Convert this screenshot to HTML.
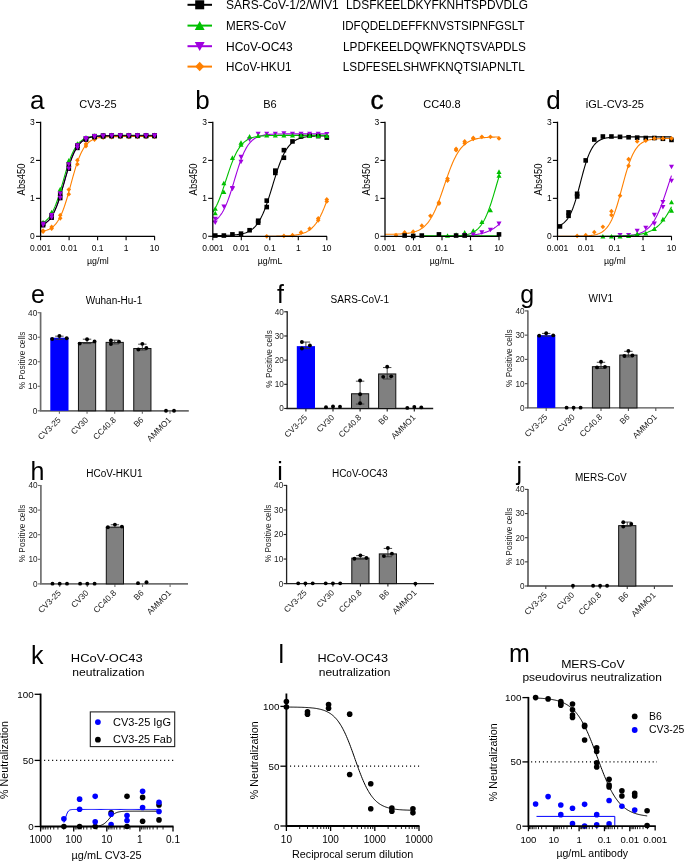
<!DOCTYPE html>
<html><head><meta charset="utf-8"><style>
html,body{margin:0;padding:0;background:#fff;}
svg{display:block;will-change:transform;}
text{font-family:"Liberation Sans", sans-serif;}
</style></head><body>
<svg width="685" height="862" viewBox="0 0 685 862">
<rect width="685" height="862" fill="#fff"/>
<line x1="187.50" y1="4.80" x2="212.00" y2="4.80" stroke="#000000" stroke-width="2"/>
<rect x="195.20" y="0.30" width="9.00" height="9.00" fill="#000000"/>
<text x="226.00" y="9.20" font-size="12" text-anchor="start" fill="#000">SARS-CoV-1/2/WIV1</text>
<text x="346.00" y="9.20" font-size="12" text-anchor="start" fill="#000" textLength="182.0" lengthAdjust="spacingAndGlyphs">LDSFKEELDKYFKNHTSPDVDLG</text>
<line x1="187.50" y1="25.60" x2="212.00" y2="25.60" stroke="#00C000" stroke-width="2"/>
<path d="M199.70 20.88L204.65 29.88L194.75 29.88Z" fill="#00C000"/>
<text x="226.00" y="30.00" font-size="12" text-anchor="start" fill="#000" textLength="60.0" lengthAdjust="spacingAndGlyphs">MERS-CoV</text>
<text x="342.00" y="30.00" font-size="12" text-anchor="start" fill="#000" textLength="182.5" lengthAdjust="spacingAndGlyphs">IDFQDELDEFFKNVSTSIPNFGSLT</text>
<line x1="187.50" y1="46.20" x2="212.00" y2="46.20" stroke="#A000E0" stroke-width="2"/>
<path d="M199.70 50.93L204.65 41.93L194.75 41.93Z" fill="#A000E0"/>
<text x="226.00" y="50.60" font-size="12" text-anchor="start" fill="#000">HCoV-OC43</text>
<text x="343.00" y="50.60" font-size="12" text-anchor="start" fill="#000" textLength="183.0" lengthAdjust="spacingAndGlyphs">LPDFKEELDQWFKNQTSVAPDLS</text>
<line x1="187.50" y1="66.60" x2="212.00" y2="66.60" stroke="#FF8000" stroke-width="2"/>
<path d="M199.70 61.87L204.20 66.60L199.70 71.32L195.20 66.60Z" fill="#FF8000"/>
<text x="226.00" y="71.00" font-size="12" text-anchor="start" fill="#000" textLength="65.6" lengthAdjust="spacingAndGlyphs">HCoV-HKU1</text>
<text x="342.80" y="71.00" font-size="12" text-anchor="start" fill="#000" textLength="182.0" lengthAdjust="spacingAndGlyphs">LSDFESELSHWFKNQTSIAPNLTL</text>
<text x="30.00" y="109.20" font-size="26" text-anchor="start" fill="#000">a</text>
<text x="97.90" y="108.10" font-size="11" text-anchor="middle" fill="#000">CV3-25</text>
<polyline points="40.60,224.04 41.55,223.62 42.50,223.14 43.45,222.59 44.40,221.97 45.35,221.25 46.30,220.44 47.25,219.52 48.20,218.48 49.15,217.31 50.10,215.99 51.05,214.52 52.00,212.88 52.95,211.07 53.90,209.08 54.85,206.90 55.80,204.54 56.75,201.99 57.70,199.27 58.65,196.38 59.60,193.35 60.55,190.20 61.50,186.96 62.45,183.65 63.40,180.32 64.35,177.00 65.30,173.72 66.25,170.51 67.20,167.41 68.15,164.45 69.10,161.63 70.05,158.99 71.00,156.52 71.95,154.25 72.90,152.15 73.85,150.24 74.80,148.51 75.75,146.95 76.70,145.56 77.65,144.31 78.60,143.20 79.55,142.21 80.50,141.34 81.45,140.58 82.40,139.90 83.35,139.31 84.30,138.79 85.25,138.34 86.20,137.95 87.15,137.61 88.10,137.31 89.05,137.05 90.00,136.82 90.95,136.62 91.90,136.45 92.85,136.31 93.80,136.18 94.75,136.07 95.70,135.97 96.65,135.89 97.60,135.81 98.55,135.75 99.50,135.70 100.45,135.65 101.40,135.61 102.35,135.58 103.30,135.55 104.25,135.52 105.20,135.50 106.15,135.48 107.10,135.46 108.05,135.45 109.00,135.43 109.95,135.42 110.90,135.41 111.85,135.41 112.80,135.40 113.75,135.39 114.70,135.39 115.65,135.38 116.60,135.38 117.55,135.37 118.50,135.37 119.45,135.37 120.40,135.37 121.35,135.37 122.30,135.36 123.25,135.36 124.20,135.36 125.15,135.36 126.10,135.36 127.05,135.36 128.00,135.36 128.95,135.36 129.90,135.36 130.85,135.36 131.80,135.36 132.75,135.36 133.70,135.35 134.65,135.35 135.60,135.35 136.55,135.35 137.50,135.35 138.45,135.35 139.40,135.35 140.35,135.35 141.30,135.35 142.25,135.35 143.20,135.35 144.15,135.35 145.10,135.35 146.05,135.35 147.00,135.35 147.95,135.35 148.90,135.35 149.85,135.35 150.80,135.35 151.75,135.35 152.70,135.35 153.65,135.35 154.60,135.35" fill="none" stroke="#00C000" stroke-width="1.1"/>
<polyline points="40.60,225.60 41.55,225.24 42.50,224.83 43.45,224.36 44.40,223.82 45.35,223.20 46.30,222.50 47.25,221.70 48.20,220.80 49.15,219.77 50.10,218.62 51.05,217.32 52.00,215.87 52.95,214.26 53.90,212.47 54.85,210.50 55.80,208.34 56.75,205.99 57.70,203.46 58.65,200.75 59.60,197.87 60.55,194.84 61.50,191.69 62.45,188.44 63.40,185.12 64.35,181.76 65.30,178.40 66.25,175.08 67.20,171.83 68.15,168.69 69.10,165.67 70.05,162.80 71.00,160.09 71.95,157.57 72.90,155.23 73.85,153.09 74.80,151.12 75.75,149.34 76.70,147.74 77.65,146.29 78.60,145.01 79.55,143.86 80.50,142.84 81.45,141.94 82.40,141.15 83.35,140.45 84.30,139.84 85.25,139.30 86.20,138.84 87.15,138.43 88.10,138.07 89.05,137.76 90.00,137.49 90.95,137.26 91.90,137.05 92.85,136.87 93.80,136.72 94.75,136.59 95.70,136.47 96.65,136.37 97.60,136.29 98.55,136.21 99.50,136.15 100.45,136.09 101.40,136.04 102.35,136.00 103.30,135.96 104.25,135.93 105.20,135.91 106.15,135.88 107.10,135.86 108.05,135.84 109.00,135.83 109.95,135.82 110.90,135.80 111.85,135.80 112.80,135.79 113.75,135.78 114.70,135.77 115.65,135.77 116.60,135.76 117.55,135.76 118.50,135.76 119.45,135.75 120.40,135.75 121.35,135.75 122.30,135.75 123.25,135.74 124.20,135.74 125.15,135.74 126.10,135.74 127.05,135.74 128.00,135.74 128.95,135.74 129.90,135.74 130.85,135.74 131.80,135.74 132.75,135.74 133.70,135.73 134.65,135.73 135.60,135.73 136.55,135.73 137.50,135.73 138.45,135.73 139.40,135.73 140.35,135.73 141.30,135.73 142.25,135.73 143.20,135.73 144.15,135.73 145.10,135.73 146.05,135.73 147.00,135.73 147.95,135.73 148.90,135.73 149.85,135.73 150.80,135.73 151.75,135.73 152.70,135.73 153.65,135.73 154.60,135.73" fill="none" stroke="#A000E0" stroke-width="1.1"/>
<polyline points="40.60,231.59 41.55,231.44 42.50,231.28 43.45,231.09 44.40,230.87 45.35,230.62 46.30,230.33 47.25,230.00 48.20,229.62 49.15,229.18 50.10,228.68 51.05,228.11 52.00,227.45 52.95,226.71 53.90,225.86 54.85,224.90 55.80,223.81 56.75,222.59 57.70,221.22 58.65,219.68 59.60,217.97 60.55,216.08 61.50,214.00 62.45,211.72 63.40,209.25 64.35,206.58 65.30,203.73 66.25,200.71 67.20,197.54 68.15,194.24 69.10,190.84 70.05,187.37 71.00,183.87 71.95,180.38 72.90,176.93 73.85,173.57 74.80,170.31 75.75,167.18 76.70,164.22 77.65,161.44 78.60,158.84 79.55,156.44 80.50,154.23 81.45,152.22 82.40,150.39 83.35,148.75 84.30,147.27 85.25,145.95 86.20,144.78 87.15,143.74 88.10,142.82 89.05,142.01 90.00,141.30 90.95,140.68 91.90,140.13 92.85,139.65 93.80,139.24 94.75,138.87 95.70,138.56 96.65,138.28 97.60,138.04 98.55,137.83 99.50,137.65 100.45,137.50 101.40,137.36 102.35,137.25 103.30,137.14 104.25,137.06 105.20,136.98 106.15,136.91 107.10,136.86 108.05,136.81 109.00,136.76 109.95,136.73 110.90,136.70 111.85,136.67 112.80,136.64 113.75,136.62 114.70,136.61 115.65,136.59 116.60,136.58 117.55,136.57 118.50,136.56 119.45,136.55 120.40,136.54 121.35,136.53 122.30,136.53 123.25,136.52 124.20,136.52 125.15,136.51 126.10,136.51 127.05,136.51 128.00,136.51 128.95,136.50 129.90,136.50 130.85,136.50 131.80,136.50 132.75,136.50 133.70,136.50 134.65,136.50 135.60,136.50 136.55,136.50 137.50,136.49 138.45,136.49 139.40,136.49 140.35,136.49 141.30,136.49 142.25,136.49 143.20,136.49 144.15,136.49 145.10,136.49 146.05,136.49 147.00,136.49 147.95,136.49 148.90,136.49 149.85,136.49 150.80,136.49 151.75,136.49 152.70,136.49 153.65,136.49 154.60,136.49" fill="none" stroke="#FF8000" stroke-width="1.1"/>
<polyline points="40.60,225.60 41.55,225.24 42.50,224.83 43.45,224.36 44.40,223.82 45.35,223.20 46.30,222.50 47.25,221.70 48.20,220.80 49.15,219.77 50.10,218.62 51.05,217.32 52.00,215.87 52.95,214.26 53.90,212.47 54.85,210.50 55.80,208.34 56.75,205.99 57.70,203.46 58.65,200.75 59.60,197.87 60.55,194.84 61.50,191.69 62.45,188.44 63.40,185.12 64.35,181.76 65.30,178.40 66.25,175.08 67.20,171.83 68.15,168.69 69.10,165.67 70.05,162.80 71.00,160.09 71.95,157.57 72.90,155.23 73.85,153.09 74.80,151.12 75.75,149.34 76.70,147.74 77.65,146.29 78.60,145.01 79.55,143.86 80.50,142.84 81.45,141.94 82.40,141.15 83.35,140.45 84.30,139.84 85.25,139.30 86.20,138.84 87.15,138.43 88.10,138.07 89.05,137.76 90.00,137.49 90.95,137.26 91.90,137.05 92.85,136.87 93.80,136.72 94.75,136.59 95.70,136.47 96.65,136.37 97.60,136.29 98.55,136.21 99.50,136.15 100.45,136.09 101.40,136.04 102.35,136.00 103.30,135.96 104.25,135.93 105.20,135.91 106.15,135.88 107.10,135.86 108.05,135.84 109.00,135.83 109.95,135.82 110.90,135.80 111.85,135.80 112.80,135.79 113.75,135.78 114.70,135.77 115.65,135.77 116.60,135.76 117.55,135.76 118.50,135.76 119.45,135.75 120.40,135.75 121.35,135.75 122.30,135.75 123.25,135.74 124.20,135.74 125.15,135.74 126.10,135.74 127.05,135.74 128.00,135.74 128.95,135.74 129.90,135.74 130.85,135.74 131.80,135.74 132.75,135.74 133.70,135.73 134.65,135.73 135.60,135.73 136.55,135.73 137.50,135.73 138.45,135.73 139.40,135.73 140.35,135.73 141.30,135.73 142.25,135.73 143.20,135.73 144.15,135.73 145.10,135.73 146.05,135.73 147.00,135.73 147.95,135.73 148.90,135.73 149.85,135.73 150.80,135.73 151.75,135.73 152.70,135.73 153.65,135.73 154.60,135.73" fill="none" stroke="#000000" stroke-width="1.1"/>
<path d="M43.07 228.26L45.37 230.68L43.07 233.09L40.77 230.68Z" fill="#FF8000"/>
<path d="M43.07 229.25L45.37 231.66L43.07 234.08L40.77 231.66Z" fill="#FF8000"/>
<path d="M51.65 224.53L53.95 226.94L51.65 229.36L49.35 226.94Z" fill="#FF8000"/>
<path d="M51.65 226.05L53.95 228.47L51.65 230.88L49.35 228.47Z" fill="#FF8000"/>
<path d="M60.23 212.85L62.53 215.26L60.23 217.68L57.93 215.26Z" fill="#FF8000"/>
<path d="M60.23 215.81L62.53 218.22L60.23 220.64L57.93 218.22Z" fill="#FF8000"/>
<path d="M68.81 187.17L71.11 189.58L68.81 192.00L66.51 189.58Z" fill="#FF8000"/>
<path d="M68.81 191.79L71.11 194.20L68.81 196.62L66.51 194.20Z" fill="#FF8000"/>
<path d="M77.39 157.84L79.69 160.25L77.39 162.67L75.09 160.25Z" fill="#FF8000"/>
<path d="M77.39 161.72L79.69 164.13L77.39 166.55L75.09 164.13Z" fill="#FF8000"/>
<path d="M85.97 141.61L88.27 144.02L85.97 146.44L83.67 144.02Z" fill="#FF8000"/>
<path d="M85.97 143.68L88.27 146.09L85.97 148.51L83.67 146.09Z" fill="#FF8000"/>
<path d="M94.54 135.95L96.84 138.37L94.54 140.78L92.24 138.37Z" fill="#FF8000"/>
<path d="M94.54 137.11L96.84 139.53L94.54 141.94L92.24 139.53Z" fill="#FF8000"/>
<path d="M103.12 134.31L105.42 136.73L103.12 139.14L100.82 136.73Z" fill="#FF8000"/>
<path d="M103.12 135.18L105.42 137.60L103.12 140.01L100.82 137.60Z" fill="#FF8000"/>
<path d="M111.70 133.86L114.00 136.28L111.70 138.69L109.40 136.28Z" fill="#FF8000"/>
<path d="M111.70 134.65L114.00 137.07L111.70 139.48L109.40 137.07Z" fill="#FF8000"/>
<path d="M120.28 133.74L122.58 136.16L120.28 138.57L117.98 136.16Z" fill="#FF8000"/>
<path d="M120.28 134.51L122.58 136.92L120.28 139.34L117.98 136.92Z" fill="#FF8000"/>
<path d="M128.86 133.71L131.16 136.12L128.86 138.54L126.56 136.12Z" fill="#FF8000"/>
<path d="M128.86 134.47L131.16 136.89L128.86 139.30L126.56 136.89Z" fill="#FF8000"/>
<path d="M137.44 133.70L139.74 136.12L137.44 138.53L135.14 136.12Z" fill="#FF8000"/>
<path d="M137.44 134.46L139.74 136.87L137.44 139.29L135.14 136.87Z" fill="#FF8000"/>
<path d="M146.02 133.70L148.32 136.11L146.02 138.53L143.72 136.11Z" fill="#FF8000"/>
<path d="M146.02 134.46L148.32 136.87L146.02 139.29L143.72 136.87Z" fill="#FF8000"/>
<path d="M154.60 133.70L156.90 136.11L154.60 138.53L152.30 136.11Z" fill="#FF8000"/>
<path d="M154.60 134.46L156.90 136.87L154.60 139.29L152.30 136.87Z" fill="#FF8000"/>
<path d="M43.07 219.71L45.60 224.31L40.54 224.31Z" fill="#00C000"/>
<path d="M43.07 221.11L45.60 225.71L40.54 225.71Z" fill="#00C000"/>
<path d="M51.65 209.77L54.18 214.37L49.12 214.37Z" fill="#00C000"/>
<path d="M51.65 212.42L54.18 217.02L49.12 217.02Z" fill="#00C000"/>
<path d="M60.23 186.70L62.76 191.30L57.70 191.30Z" fill="#00C000"/>
<path d="M60.23 191.04L62.76 195.64L57.70 195.64Z" fill="#00C000"/>
<path d="M68.81 158.11L71.34 162.71L66.28 162.71Z" fill="#00C000"/>
<path d="M68.81 162.03L71.34 166.63L66.28 166.63Z" fill="#00C000"/>
<path d="M77.39 141.15L79.92 145.75L74.86 145.75Z" fill="#00C000"/>
<path d="M77.39 143.30L79.92 147.90L74.86 147.90Z" fill="#00C000"/>
<path d="M85.97 135.03L88.50 139.63L83.44 139.63Z" fill="#00C000"/>
<path d="M85.97 136.23L88.50 140.83L83.44 140.83Z" fill="#00C000"/>
<path d="M94.54 133.23L97.07 137.83L92.01 137.83Z" fill="#00C000"/>
<path d="M94.54 134.12L97.07 138.72L92.01 138.72Z" fill="#00C000"/>
<path d="M103.12 132.74L105.65 137.34L100.59 137.34Z" fill="#00C000"/>
<path d="M103.12 133.53L105.65 138.13L100.59 138.13Z" fill="#00C000"/>
<path d="M111.70 132.61L114.23 137.21L109.17 137.21Z" fill="#00C000"/>
<path d="M111.70 133.38L114.23 137.98L109.17 137.98Z" fill="#00C000"/>
<path d="M120.28 132.57L122.81 137.17L117.75 137.17Z" fill="#00C000"/>
<path d="M120.28 133.33L122.81 137.93L117.75 137.93Z" fill="#00C000"/>
<path d="M128.86 132.56L131.39 137.16L126.33 137.16Z" fill="#00C000"/>
<path d="M128.86 133.32L131.39 137.92L126.33 137.92Z" fill="#00C000"/>
<path d="M137.44 132.56L139.97 137.16L134.91 137.16Z" fill="#00C000"/>
<path d="M137.44 133.32L139.97 137.92L134.91 137.92Z" fill="#00C000"/>
<path d="M146.02 132.56L148.55 137.16L143.49 137.16Z" fill="#00C000"/>
<path d="M146.02 133.32L148.55 137.92L143.49 137.92Z" fill="#00C000"/>
<path d="M154.60 132.56L157.13 137.16L152.07 137.16Z" fill="#00C000"/>
<path d="M154.60 133.32L157.13 137.92L152.07 137.92Z" fill="#00C000"/>
<rect x="40.77" y="221.60" width="4.60" height="4.60" fill="#000000"/>
<rect x="40.77" y="222.91" width="4.60" height="4.60" fill="#000000"/>
<rect x="49.35" y="212.90" width="4.60" height="4.60" fill="#000000"/>
<rect x="49.35" y="215.35" width="4.60" height="4.60" fill="#000000"/>
<rect x="57.93" y="191.48" width="4.60" height="4.60" fill="#000000"/>
<rect x="57.93" y="195.69" width="4.60" height="4.60" fill="#000000"/>
<rect x="66.51" y="162.21" width="4.60" height="4.60" fill="#000000"/>
<rect x="66.51" y="166.36" width="4.60" height="4.60" fill="#000000"/>
<rect x="75.09" y="143.19" width="4.60" height="4.60" fill="#000000"/>
<rect x="75.09" y="145.57" width="4.60" height="4.60" fill="#000000"/>
<rect x="83.67" y="136.00" width="4.60" height="4.60" fill="#000000"/>
<rect x="83.67" y="137.29" width="4.60" height="4.60" fill="#000000"/>
<rect x="92.24" y="133.86" width="4.60" height="4.60" fill="#000000"/>
<rect x="92.24" y="134.77" width="4.60" height="4.60" fill="#000000"/>
<rect x="100.82" y="133.27" width="4.60" height="4.60" fill="#000000"/>
<rect x="100.82" y="134.07" width="4.60" height="4.60" fill="#000000"/>
<rect x="109.40" y="133.11" width="4.60" height="4.60" fill="#000000"/>
<rect x="109.40" y="133.88" width="4.60" height="4.60" fill="#000000"/>
<rect x="117.98" y="133.07" width="4.60" height="4.60" fill="#000000"/>
<rect x="117.98" y="133.83" width="4.60" height="4.60" fill="#000000"/>
<rect x="126.56" y="133.06" width="4.60" height="4.60" fill="#000000"/>
<rect x="126.56" y="133.82" width="4.60" height="4.60" fill="#000000"/>
<rect x="135.14" y="133.05" width="4.60" height="4.60" fill="#000000"/>
<rect x="135.14" y="133.81" width="4.60" height="4.60" fill="#000000"/>
<rect x="143.72" y="133.05" width="4.60" height="4.60" fill="#000000"/>
<rect x="143.72" y="133.81" width="4.60" height="4.60" fill="#000000"/>
<rect x="152.30" y="133.05" width="4.60" height="4.60" fill="#000000"/>
<rect x="152.30" y="133.81" width="4.60" height="4.60" fill="#000000"/>
<path d="M43.07 226.31L45.60 221.71L40.54 221.71Z" fill="#A000E0"/>
<path d="M43.07 227.62L45.60 223.02L40.54 223.02Z" fill="#A000E0"/>
<path d="M51.65 217.62L54.18 213.02L49.12 213.02Z" fill="#A000E0"/>
<path d="M51.65 220.07L54.18 215.47L49.12 215.47Z" fill="#A000E0"/>
<path d="M60.23 196.20L62.76 191.60L57.70 191.60Z" fill="#A000E0"/>
<path d="M60.23 200.41L62.76 195.81L57.70 195.81Z" fill="#A000E0"/>
<path d="M68.81 166.92L71.34 162.32L66.28 162.32Z" fill="#A000E0"/>
<path d="M68.81 171.07L71.34 166.47L66.28 166.47Z" fill="#A000E0"/>
<path d="M77.39 147.91L79.92 143.31L74.86 143.31Z" fill="#A000E0"/>
<path d="M77.39 150.28L79.92 145.68L74.86 145.68Z" fill="#A000E0"/>
<path d="M85.97 140.72L88.50 136.12L83.44 136.12Z" fill="#A000E0"/>
<path d="M85.97 142.00L88.50 137.40L83.44 137.40Z" fill="#A000E0"/>
<path d="M94.54 138.58L97.07 133.98L92.01 133.98Z" fill="#A000E0"/>
<path d="M94.54 139.48L97.07 134.88L92.01 134.88Z" fill="#A000E0"/>
<path d="M103.12 137.99L105.65 133.39L100.59 133.39Z" fill="#A000E0"/>
<path d="M103.12 138.79L105.65 134.19L100.59 134.19Z" fill="#A000E0"/>
<path d="M111.70 137.83L114.23 133.23L109.17 133.23Z" fill="#A000E0"/>
<path d="M111.70 138.60L114.23 134.00L109.17 134.00Z" fill="#A000E0"/>
<path d="M120.28 137.78L122.81 133.18L117.75 133.18Z" fill="#A000E0"/>
<path d="M120.28 138.55L122.81 133.95L117.75 133.95Z" fill="#A000E0"/>
<path d="M128.86 137.77L131.39 133.17L126.33 133.17Z" fill="#A000E0"/>
<path d="M128.86 138.53L131.39 133.93L126.33 133.93Z" fill="#A000E0"/>
<path d="M137.44 137.77L139.97 133.17L134.91 133.17Z" fill="#A000E0"/>
<path d="M137.44 138.53L139.97 133.93L134.91 133.93Z" fill="#A000E0"/>
<path d="M146.02 137.77L148.55 133.17L143.49 133.17Z" fill="#A000E0"/>
<path d="M146.02 138.53L148.55 133.93L143.49 133.93Z" fill="#A000E0"/>
<path d="M154.60 137.77L157.13 133.17L152.07 133.17Z" fill="#A000E0"/>
<path d="M154.60 138.53L157.13 133.93L152.07 133.93Z" fill="#A000E0"/>
<line x1="40.60" y1="236.30" x2="154.80" y2="236.30" stroke="#000" stroke-width="1.3"/>
<line x1="40.60" y1="236.90" x2="40.60" y2="121.70" stroke="#000" stroke-width="1.3"/>
<line x1="36.00" y1="236.30" x2="40.60" y2="236.30" stroke="#000" stroke-width="1.1"/>
<text x="34.80" y="239.30" font-size="8.5" text-anchor="end" fill="#000">0</text>
<line x1="36.00" y1="198.35" x2="40.60" y2="198.35" stroke="#000" stroke-width="1.1"/>
<text x="34.80" y="201.35" font-size="8.5" text-anchor="end" fill="#000">1</text>
<line x1="36.00" y1="160.40" x2="40.60" y2="160.40" stroke="#000" stroke-width="1.1"/>
<text x="34.80" y="163.40" font-size="8.5" text-anchor="end" fill="#000">2</text>
<line x1="36.00" y1="122.45" x2="40.60" y2="122.45" stroke="#000" stroke-width="1.1"/>
<text x="34.80" y="125.45" font-size="8.5" text-anchor="end" fill="#000">3</text>
<line x1="40.60" y1="236.30" x2="40.60" y2="240.30" stroke="#000" stroke-width="1.1"/>
<text x="40.60" y="250.80" font-size="8.5" text-anchor="middle" fill="#000">0.001</text>
<line x1="69.10" y1="236.30" x2="69.10" y2="240.30" stroke="#000" stroke-width="1.1"/>
<text x="69.10" y="250.80" font-size="8.5" text-anchor="middle" fill="#000">0.01</text>
<line x1="97.60" y1="236.30" x2="97.60" y2="240.30" stroke="#000" stroke-width="1.1"/>
<text x="97.60" y="250.80" font-size="8.5" text-anchor="middle" fill="#000">0.1</text>
<line x1="126.10" y1="236.30" x2="126.10" y2="240.30" stroke="#000" stroke-width="1.1"/>
<text x="126.10" y="250.80" font-size="8.5" text-anchor="middle" fill="#000">1</text>
<line x1="154.60" y1="236.30" x2="154.60" y2="240.30" stroke="#000" stroke-width="1.1"/>
<text x="154.60" y="250.80" font-size="8.5" text-anchor="middle" fill="#000">10</text>
<text x="97.90" y="264.00" font-size="8.8" text-anchor="middle" fill="#000">µg/ml</text>
<text x="25.20" y="179.40" font-size="10.3" text-anchor="middle" fill="#000" transform="rotate(-90 25.20 179.40)" textLength="32.0" lengthAdjust="spacingAndGlyphs">Abs450</text>
<text x="195.20" y="109.20" font-size="26" text-anchor="start" fill="#000">b</text>
<text x="270.00" y="108.10" font-size="11" text-anchor="middle" fill="#000">B6</text>
<polyline points="212.80,235.50 213.75,235.50 214.70,235.49 215.65,235.49 216.60,235.48 217.55,235.47 218.50,235.46 219.45,235.45 220.40,235.44 221.35,235.43 222.30,235.41 223.25,235.40 224.20,235.38 225.15,235.35 226.10,235.33 227.05,235.30 228.00,235.27 228.95,235.23 229.90,235.19 230.85,235.15 231.80,235.09 232.75,235.03 233.70,234.97 234.65,234.89 235.60,234.80 236.55,234.70 237.50,234.59 238.45,234.47 239.40,234.32 240.35,234.16 241.30,233.98 242.25,233.77 243.20,233.54 244.15,233.28 245.10,232.98 246.05,232.65 247.00,232.28 247.95,231.85 248.90,231.38 249.85,230.85 250.80,230.25 251.75,229.59 252.70,228.84 253.65,228.01 254.60,227.09 255.55,226.06 256.50,224.92 257.45,223.67 258.40,222.29 259.35,220.77 260.30,219.12 261.25,217.32 262.20,215.37 263.15,213.26 264.10,211.01 265.05,208.61 266.00,206.06 266.95,203.38 267.90,200.58 268.85,197.67 269.80,194.67 270.75,191.60 271.70,188.48 272.65,185.35 273.60,182.21 274.55,179.10 275.50,176.04 276.45,173.06 277.40,170.17 278.35,167.39 279.30,164.73 280.25,162.21 281.20,159.84 282.15,157.61 283.10,155.54 284.05,153.61 285.00,151.84 285.95,150.21 286.90,148.72 287.85,147.36 288.80,146.13 289.75,145.02 290.70,144.01 291.65,143.10 292.60,142.29 293.55,141.56 294.50,140.90 295.45,140.32 296.40,139.80 297.35,139.34 298.30,138.92 299.25,138.56 300.20,138.23 301.15,137.94 302.10,137.69 303.05,137.46 304.00,137.26 304.95,137.08 305.90,136.92 306.85,136.78 307.80,136.66 308.75,136.55 309.70,136.46 310.65,136.37 311.60,136.30 312.55,136.23 313.50,136.17 314.45,136.12 315.40,136.07 316.35,136.03 317.30,136.00 318.25,135.97 319.20,135.94 320.15,135.91 321.10,135.89 322.05,135.87 323.00,135.86 323.95,135.84 324.90,135.83 325.85,135.82 326.80,135.81" fill="none" stroke="#000000" stroke-width="1.1"/>
<polyline points="212.80,221.95 213.75,221.43 214.70,220.83 215.65,220.15 216.60,219.39 217.55,218.53 218.50,217.57 219.45,216.49 220.40,215.28 221.35,213.94 222.30,212.45 223.25,210.81 224.20,209.01 225.15,207.04 226.10,204.90 227.05,202.60 228.00,200.13 228.95,197.51 229.90,194.74 230.85,191.84 231.80,188.84 232.75,185.76 233.70,182.61 234.65,179.45 235.60,176.28 236.55,173.15 237.50,170.08 238.45,167.09 239.40,164.22 240.35,161.48 241.30,158.89 242.25,156.45 243.20,154.18 244.15,152.08 245.10,150.14 246.05,148.37 247.00,146.76 247.95,145.30 248.90,143.98 249.85,142.80 250.80,141.74 251.75,140.80 252.70,139.96 253.65,139.22 254.60,138.56 255.55,137.98 256.50,137.46 257.45,137.01 258.40,136.61 259.35,136.26 260.30,135.96 261.25,135.69 262.20,135.45 263.15,135.25 264.10,135.07 265.05,134.91 266.00,134.77 266.95,134.65 267.90,134.55 268.85,134.46 269.80,134.38 270.75,134.31 271.70,134.25 272.65,134.19 273.60,134.15 274.55,134.11 275.50,134.07 276.45,134.04 277.40,134.02 278.35,133.99 279.30,133.97 280.25,133.95 281.20,133.94 282.15,133.93 283.10,133.91 284.05,133.90 285.00,133.89 285.95,133.89 286.90,133.88 287.85,133.87 288.80,133.87 289.75,133.86 290.70,133.86 291.65,133.86 292.60,133.85 293.55,133.85 294.50,133.85 295.45,133.85 296.40,133.85 297.35,133.84 298.30,133.84 299.25,133.84 300.20,133.84 301.15,133.84 302.10,133.84 303.05,133.84 304.00,133.84 304.95,133.84 305.90,133.84 306.85,133.84 307.80,133.84 308.75,133.84 309.70,133.84 310.65,133.84 311.60,133.84 312.55,133.84 313.50,133.84 314.45,133.84 315.40,133.84 316.35,133.84 317.30,133.84 318.25,133.84 319.20,133.84 320.15,133.84 321.10,133.84 322.05,133.84 323.00,133.84 323.95,133.84 324.90,133.84 325.85,133.84 326.80,133.84" fill="none" stroke="#A000E0" stroke-width="1.1"/>
<polyline points="212.80,212.32 213.75,210.84 214.70,209.22 215.65,207.46 216.60,205.55 217.55,203.50 218.50,201.30 219.45,198.97 220.40,196.50 221.35,193.91 222.30,191.21 223.25,188.43 224.20,185.58 225.15,182.68 226.10,179.76 227.05,176.84 228.00,173.96 228.95,171.12 229.90,168.36 230.85,165.69 231.80,163.13 232.75,160.69 233.70,158.39 234.65,156.23 235.60,154.21 236.55,152.34 237.50,150.62 238.45,149.04 239.40,147.59 240.35,146.28 241.30,145.09 242.25,144.01 243.20,143.04 244.15,142.17 245.10,141.40 246.05,140.70 247.00,140.08 247.95,139.53 248.90,139.04 249.85,138.60 250.80,138.22 251.75,137.88 252.70,137.58 253.65,137.31 254.60,137.08 255.55,136.87 256.50,136.69 257.45,136.53 258.40,136.38 259.35,136.26 260.30,136.15 261.25,136.05 262.20,135.97 263.15,135.89 264.10,135.83 265.05,135.77 266.00,135.72 266.95,135.67 267.90,135.63 268.85,135.60 269.80,135.57 270.75,135.54 271.70,135.52 272.65,135.50 273.60,135.48 274.55,135.47 275.50,135.45 276.45,135.44 277.40,135.43 278.35,135.42 279.30,135.41 280.25,135.40 281.20,135.40 282.15,135.39 283.10,135.39 284.05,135.38 285.00,135.38 285.95,135.38 286.90,135.37 287.85,135.37 288.80,135.37 289.75,135.37 290.70,135.37 291.65,135.36 292.60,135.36 293.55,135.36 294.50,135.36 295.45,135.36 296.40,135.36 297.35,135.36 298.30,135.36 299.25,135.36 300.20,135.36 301.15,135.36 302.10,135.36 303.05,135.36 304.00,135.35 304.95,135.35 305.90,135.35 306.85,135.35 307.80,135.35 308.75,135.35 309.70,135.35 310.65,135.35 311.60,135.35 312.55,135.35 313.50,135.35 314.45,135.35 315.40,135.35 316.35,135.35 317.30,135.35 318.25,135.35 319.20,135.35 320.15,135.35 321.10,135.35 322.05,135.35 323.00,135.35 323.95,135.35 324.90,135.35 325.85,135.35 326.80,135.35" fill="none" stroke="#00C000" stroke-width="1.1"/>
<polyline points="265.39,236.27 265.90,236.27 266.41,236.26 266.92,236.26 267.43,236.26 267.94,236.26 268.46,236.25 268.97,236.25 269.48,236.25 269.99,236.24 270.50,236.24 271.01,236.24 271.53,236.23 272.04,236.23 272.55,236.22 273.06,236.22 273.57,236.21 274.09,236.21 274.60,236.20 275.11,236.20 275.62,236.19 276.13,236.18 276.64,236.17 277.16,236.17 277.67,236.16 278.18,236.15 278.69,236.14 279.20,236.13 279.72,236.12 280.23,236.11 280.74,236.09 281.25,236.08 281.76,236.07 282.27,236.05 282.79,236.04 283.30,236.02 283.81,236.00 284.32,235.98 284.83,235.96 285.35,235.94 285.86,235.92 286.37,235.89 286.88,235.87 287.39,235.84 287.90,235.81 288.42,235.78 288.93,235.75 289.44,235.71 289.95,235.67 290.46,235.63 290.97,235.59 291.49,235.55 292.00,235.50 292.51,235.45 293.02,235.40 293.53,235.34 294.05,235.28 294.56,235.21 295.07,235.14 295.58,235.07 296.09,234.99 296.60,234.91 297.12,234.82 297.63,234.73 298.14,234.63 298.65,234.53 299.16,234.41 299.68,234.30 300.19,234.17 300.70,234.04 301.21,233.90 301.72,233.75 302.23,233.59 302.75,233.42 303.26,233.24 303.77,233.05 304.28,232.85 304.79,232.64 305.30,232.41 305.82,232.17 306.33,231.92 306.84,231.65 307.35,231.37 307.86,231.07 308.38,230.75 308.89,230.42 309.40,230.07 309.91,229.69 310.42,229.30 310.93,228.89 311.45,228.45 311.96,227.99 312.47,227.50 312.98,226.99 313.49,226.45 314.01,225.89 314.52,225.30 315.03,224.67 315.54,224.02 316.05,223.34 316.56,222.62 317.08,221.87 317.59,221.09 318.10,220.27 318.61,219.41 319.12,218.52 319.63,217.60 320.15,216.64 320.66,215.64 321.17,214.60 321.68,213.53 322.19,212.41 322.71,211.27 323.22,210.08 323.73,208.86 324.24,207.61 324.75,206.32 325.26,205.00 325.78,203.65 326.29,202.26 326.80,200.85" fill="none" stroke="#FF8000" stroke-width="1.1"/>
<rect x="212.97" y="233.24" width="4.60" height="4.60" fill="#000000"/>
<rect x="221.55" y="233.24" width="4.60" height="4.60" fill="#000000"/>
<rect x="230.13" y="232.10" width="4.60" height="4.60" fill="#000000"/>
<rect x="238.71" y="231.34" width="4.60" height="4.60" fill="#000000"/>
<rect x="247.29" y="227.93" width="4.60" height="4.60" fill="#000000"/>
<rect x="255.87" y="218.44" width="4.60" height="4.60" fill="#000000"/>
<rect x="255.87" y="220.34" width="4.60" height="4.60" fill="#000000"/>
<rect x="264.44" y="198.33" width="4.60" height="4.60" fill="#000000"/>
<rect x="264.44" y="204.78" width="4.60" height="4.60" fill="#000000"/>
<rect x="273.02" y="168.35" width="4.60" height="4.60" fill="#000000"/>
<rect x="273.02" y="170.62" width="4.60" height="4.60" fill="#000000"/>
<rect x="281.60" y="147.85" width="4.60" height="4.60" fill="#000000"/>
<rect x="281.60" y="155.44" width="4.60" height="4.60" fill="#000000"/>
<rect x="290.18" y="139.12" width="4.60" height="4.60" fill="#000000"/>
<rect x="298.76" y="134.19" width="4.60" height="4.60" fill="#000000"/>
<rect x="307.34" y="133.43" width="4.60" height="4.60" fill="#000000"/>
<rect x="315.92" y="133.81" width="4.60" height="4.60" fill="#000000"/>
<rect x="324.50" y="135.33" width="4.60" height="4.60" fill="#000000"/>
<path d="M215.27 221.26L217.80 216.66L212.74 216.66Z" fill="#A000E0"/>
<path d="M215.27 225.05L217.80 220.45L212.74 220.45Z" fill="#A000E0"/>
<path d="M223.85 209.11L226.38 204.51L221.32 204.51Z" fill="#A000E0"/>
<path d="M232.43 190.52L234.96 185.92L229.90 185.92Z" fill="#A000E0"/>
<path d="M232.43 191.28L234.96 186.68L229.90 186.68Z" fill="#A000E0"/>
<path d="M241.01 164.33L243.54 159.73L238.48 159.73Z" fill="#A000E0"/>
<path d="M241.01 159.40L243.54 154.80L238.48 154.80Z" fill="#A000E0"/>
<path d="M249.59 141.94L252.12 137.34L247.06 137.34Z" fill="#A000E0"/>
<path d="M258.17 136.25L260.70 131.65L255.64 131.65Z" fill="#A000E0"/>
<path d="M266.74 136.25L269.27 131.65L264.21 131.65Z" fill="#A000E0"/>
<path d="M275.32 136.25L277.85 131.65L272.79 131.65Z" fill="#A000E0"/>
<path d="M283.90 135.87L286.43 131.27L281.37 131.27Z" fill="#A000E0"/>
<path d="M292.48 136.25L295.01 131.65L289.95 131.65Z" fill="#A000E0"/>
<path d="M301.06 136.25L303.59 131.65L298.53 131.65Z" fill="#A000E0"/>
<path d="M309.64 136.25L312.17 131.65L307.11 131.65Z" fill="#A000E0"/>
<path d="M318.22 136.25L320.75 131.65L315.69 131.65Z" fill="#A000E0"/>
<path d="M326.80 136.63L329.33 132.03L324.27 132.03Z" fill="#A000E0"/>
<path d="M215.27 206.18L217.80 210.78L212.74 210.78Z" fill="#00C000"/>
<path d="M215.27 210.74L217.80 215.34L212.74 215.34Z" fill="#00C000"/>
<path d="M223.85 180.76L226.38 185.36L221.32 185.36Z" fill="#00C000"/>
<path d="M223.85 189.48L226.38 194.08L221.32 194.08Z" fill="#00C000"/>
<path d="M232.43 155.33L234.96 159.93L229.90 159.93Z" fill="#00C000"/>
<path d="M241.01 142.05L243.54 146.65L238.48 146.65Z" fill="#00C000"/>
<path d="M241.01 140.15L243.54 144.75L238.48 144.75Z" fill="#00C000"/>
<path d="M249.59 134.08L252.12 138.68L247.06 138.68Z" fill="#00C000"/>
<path d="M258.17 133.32L260.70 137.92L255.64 137.92Z" fill="#00C000"/>
<path d="M266.74 132.94L269.27 137.54L264.21 137.54Z" fill="#00C000"/>
<path d="M275.32 132.94L277.85 137.54L272.79 137.54Z" fill="#00C000"/>
<path d="M283.90 132.94L286.43 137.54L281.37 137.54Z" fill="#00C000"/>
<path d="M292.48 132.94L295.01 137.54L289.95 137.54Z" fill="#00C000"/>
<path d="M301.06 132.94L303.59 137.54L298.53 137.54Z" fill="#00C000"/>
<path d="M309.64 133.32L312.17 137.92L307.11 137.92Z" fill="#00C000"/>
<path d="M318.22 133.32L320.75 137.92L315.69 137.92Z" fill="#00C000"/>
<path d="M326.80 133.32L329.33 137.92L324.27 137.92Z" fill="#00C000"/>
<path d="M266.74 233.89L269.04 236.30L266.74 238.72L264.44 236.30Z" fill="#FF8000"/>
<path d="M283.90 233.51L286.20 235.92L283.90 238.34L281.60 235.92Z" fill="#FF8000"/>
<path d="M292.48 232.75L294.78 235.16L292.48 237.58L290.18 235.16Z" fill="#FF8000"/>
<path d="M301.06 230.09L303.36 232.51L301.06 234.92L298.76 232.51Z" fill="#FF8000"/>
<path d="M309.64 226.30L311.94 228.71L309.64 231.12L307.34 228.71Z" fill="#FF8000"/>
<path d="M318.22 217.95L320.52 220.36L318.22 222.78L315.92 220.36Z" fill="#FF8000"/>
<path d="M318.22 216.05L320.52 218.46L318.22 220.88L315.92 218.46Z" fill="#FF8000"/>
<path d="M326.80 197.07L329.10 199.49L326.80 201.90L324.50 199.49Z" fill="#FF8000"/>
<path d="M326.80 198.97L329.10 201.39L326.80 203.80L324.50 201.39Z" fill="#FF8000"/>
<line x1="212.80" y1="236.30" x2="327.00" y2="236.30" stroke="#000" stroke-width="1.3"/>
<line x1="212.80" y1="236.90" x2="212.80" y2="121.70" stroke="#000" stroke-width="1.3"/>
<line x1="208.20" y1="236.30" x2="212.80" y2="236.30" stroke="#000" stroke-width="1.1"/>
<text x="207.00" y="239.30" font-size="8.5" text-anchor="end" fill="#000">0</text>
<line x1="208.20" y1="198.35" x2="212.80" y2="198.35" stroke="#000" stroke-width="1.1"/>
<text x="207.00" y="201.35" font-size="8.5" text-anchor="end" fill="#000">1</text>
<line x1="208.20" y1="160.40" x2="212.80" y2="160.40" stroke="#000" stroke-width="1.1"/>
<text x="207.00" y="163.40" font-size="8.5" text-anchor="end" fill="#000">2</text>
<line x1="208.20" y1="122.45" x2="212.80" y2="122.45" stroke="#000" stroke-width="1.1"/>
<text x="207.00" y="125.45" font-size="8.5" text-anchor="end" fill="#000">3</text>
<line x1="212.80" y1="236.30" x2="212.80" y2="240.30" stroke="#000" stroke-width="1.1"/>
<text x="212.80" y="250.80" font-size="8.5" text-anchor="middle" fill="#000">0.001</text>
<line x1="241.30" y1="236.30" x2="241.30" y2="240.30" stroke="#000" stroke-width="1.1"/>
<text x="241.30" y="250.80" font-size="8.5" text-anchor="middle" fill="#000">0.01</text>
<line x1="269.80" y1="236.30" x2="269.80" y2="240.30" stroke="#000" stroke-width="1.1"/>
<text x="269.80" y="250.80" font-size="8.5" text-anchor="middle" fill="#000">0.1</text>
<line x1="298.30" y1="236.30" x2="298.30" y2="240.30" stroke="#000" stroke-width="1.1"/>
<text x="298.30" y="250.80" font-size="8.5" text-anchor="middle" fill="#000">1</text>
<line x1="326.80" y1="236.30" x2="326.80" y2="240.30" stroke="#000" stroke-width="1.1"/>
<text x="326.80" y="250.80" font-size="8.5" text-anchor="middle" fill="#000">10</text>
<text x="270.00" y="264.00" font-size="8.8" text-anchor="middle" fill="#000">µg/mL</text>
<text x="197.40" y="179.40" font-size="10.3" text-anchor="middle" fill="#000" transform="rotate(-90 197.40 179.40)" textLength="32.0" lengthAdjust="spacingAndGlyphs">Abs450</text>
<text x="370.50" y="109.20" font-size="26" text-anchor="start" fill="#000" stroke="#000" stroke-width="0.45">c</text>
<text x="442.00" y="108.10" font-size="11" text-anchor="middle" fill="#000">CC40.8</text>
<polyline points="420.78,236.30 421.43,236.30 422.08,236.30 422.73,236.30 423.38,236.30 424.03,236.30 424.69,236.29 425.34,236.29 425.99,236.29 426.64,236.29 427.29,236.29 427.95,236.29 428.60,236.29 429.25,236.29 429.90,236.29 430.55,236.29 431.21,236.29 431.86,236.29 432.51,236.28 433.16,236.28 433.81,236.28 434.46,236.28 435.12,236.28 435.77,236.28 436.42,236.27 437.07,236.27 437.72,236.27 438.38,236.26 439.03,236.26 439.68,236.26 440.33,236.25 440.98,236.25 441.64,236.24 442.29,236.24 442.94,236.23 443.59,236.23 444.24,236.22 444.89,236.21 445.55,236.20 446.20,236.20 446.85,236.19 447.50,236.18 448.15,236.16 448.81,236.15 449.46,236.14 450.11,236.12 450.76,236.11 451.41,236.09 452.07,236.07 452.72,236.05 453.37,236.02 454.02,236.00 454.67,235.97 455.32,235.94 455.98,235.90 456.63,235.87 457.28,235.83 457.93,235.78 458.58,235.73 459.24,235.68 459.89,235.62 460.54,235.56 461.19,235.49 461.84,235.41 462.50,235.33 463.15,235.24 463.80,235.15 464.45,235.04 465.10,234.92 465.75,234.79 466.41,234.66 467.06,234.50 467.71,234.34 468.36,234.16 469.01,233.96 469.67,233.75 470.32,233.52 470.97,233.27 471.62,232.99 472.27,232.69 472.93,232.37 473.58,232.02 474.23,231.63 474.88,231.22 475.53,230.77 476.18,230.28 476.84,229.75 477.49,229.18 478.14,228.57 478.79,227.91 479.44,227.19 480.10,226.42 480.75,225.60 481.40,224.71 482.05,223.76 482.70,222.74 483.36,221.66 484.01,220.50 484.66,219.27 485.31,217.97 485.96,216.59 486.61,215.13 487.27,213.59 487.92,211.98 488.57,210.29 489.22,208.53 489.87,206.69 490.53,204.79 491.18,202.82 491.83,200.79 492.48,198.71 493.13,196.58 493.79,194.41 494.44,192.20 495.09,189.98 495.74,187.73 496.39,185.48 497.04,183.23 497.70,181.00 498.35,178.78 499.00,176.59" fill="none" stroke="#00C000" stroke-width="1.1"/>
<polyline points="461.92,235.79 462.23,235.78 462.54,235.76 462.85,235.75 463.16,235.73 463.47,235.72 463.77,235.70 464.08,235.69 464.39,235.67 464.70,235.65 465.01,235.63 465.32,235.62 465.63,235.60 465.94,235.58 466.25,235.56 466.56,235.54 466.86,235.52 467.17,235.49 467.48,235.47 467.79,235.45 468.10,235.43 468.41,235.40 468.72,235.38 469.03,235.35 469.34,235.33 469.65,235.30 469.95,235.27 470.26,235.24 470.57,235.21 470.88,235.18 471.19,235.15 471.50,235.12 471.81,235.09 472.12,235.06 472.43,235.02 472.74,234.99 473.04,234.95 473.35,234.91 473.66,234.87 473.97,234.84 474.28,234.80 474.59,234.75 474.90,234.71 475.21,234.67 475.52,234.62 475.83,234.58 476.13,234.53 476.44,234.48 476.75,234.43 477.06,234.38 477.37,234.33 477.68,234.28 477.99,234.22 478.30,234.16 478.61,234.11 478.92,234.05 479.22,233.98 479.53,233.92 479.84,233.86 480.15,233.79 480.46,233.72 480.77,233.65 481.08,233.58 481.39,233.51 481.70,233.43 482.01,233.35 482.31,233.28 482.62,233.19 482.93,233.11 483.24,233.02 483.55,232.94 483.86,232.85 484.17,232.75 484.48,232.66 484.79,232.56 485.10,232.46 485.40,232.36 485.71,232.25 486.02,232.14 486.33,232.03 486.64,231.92 486.95,231.80 487.26,231.68 487.57,231.56 487.88,231.44 488.19,231.31 488.49,231.18 488.80,231.04 489.11,230.90 489.42,230.76 489.73,230.62 490.04,230.47 490.35,230.31 490.66,230.16 490.97,230.00 491.28,229.83 491.58,229.67 491.89,229.49 492.20,229.32 492.51,229.14 492.82,228.95 493.13,228.76 493.44,228.57 493.75,228.37 494.06,228.17 494.37,227.96 494.67,227.75 494.98,227.53 495.29,227.31 495.60,227.09 495.91,226.85 496.22,226.62 496.53,226.37 496.84,226.13 497.15,225.87 497.46,225.61 497.76,225.35 498.07,225.08 498.38,224.80 498.69,224.52 499.00,224.23" fill="none" stroke="#A000E0" stroke-width="1.1"/>
<polyline points="385.00,234.33 385.95,234.32 386.90,234.31 387.85,234.30 388.80,234.29 389.75,234.27 390.70,234.25 391.65,234.24 392.60,234.22 393.55,234.19 394.50,234.17 395.45,234.14 396.40,234.11 397.35,234.07 398.30,234.03 399.25,233.99 400.20,233.94 401.15,233.88 402.10,233.82 403.05,233.75 404.00,233.67 404.95,233.58 405.90,233.48 406.85,233.37 407.80,233.24 408.75,233.10 409.70,232.94 410.65,232.77 411.60,232.57 412.55,232.36 413.50,232.11 414.45,231.84 415.40,231.54 416.35,231.20 417.30,230.82 418.25,230.40 419.20,229.94 420.15,229.42 421.10,228.84 422.05,228.21 423.00,227.51 423.95,226.73 424.90,225.88 425.85,224.94 426.80,223.91 427.75,222.78 428.70,221.55 429.65,220.21 430.60,218.76 431.55,217.18 432.50,215.49 433.45,213.67 434.40,211.73 435.35,209.67 436.30,207.48 437.25,205.18 438.20,202.77 439.15,200.26 440.10,197.67 441.05,194.99 442.00,192.26 442.95,189.49 443.90,186.69 444.85,183.88 445.80,181.09 446.75,178.32 447.70,175.61 448.65,172.95 449.60,170.38 450.55,167.89 451.50,165.51 452.45,163.24 453.40,161.08 454.35,159.05 455.30,157.14 456.25,155.35 457.20,153.69 458.15,152.14 459.10,150.72 460.05,149.41 461.00,148.20 461.95,147.10 462.90,146.09 463.85,145.17 464.80,144.34 465.75,143.58 466.70,142.90 467.65,142.28 468.60,141.72 469.55,141.22 470.50,140.76 471.45,140.36 472.40,139.99 473.35,139.66 474.30,139.36 475.25,139.10 476.20,138.86 477.15,138.65 478.10,138.46 479.05,138.29 480.00,138.14 480.95,138.00 481.90,137.88 482.85,137.77 483.80,137.67 484.75,137.59 485.70,137.51 486.65,137.44 487.60,137.38 488.55,137.32 489.50,137.27 490.45,137.23 491.40,137.19 492.35,137.16 493.30,137.13 494.25,137.10 495.20,137.07 496.15,137.05 497.10,137.03 498.05,137.01 499.00,137.00" fill="none" stroke="#FF8000" stroke-width="1.1"/>
<line x1="420.78" y1="235.70" x2="499.00" y2="235.70" stroke="#00C000" stroke-width="1.1"/>
<path d="M396.05 232.75L398.35 235.16L396.05 237.58L393.75 235.16Z" fill="#FF8000"/>
<path d="M404.63 230.09L406.93 232.51L404.63 234.92L402.33 232.51Z" fill="#FF8000"/>
<path d="M413.21 229.33L415.51 231.75L413.21 234.16L410.91 231.75Z" fill="#FF8000"/>
<path d="M421.79 223.26L424.09 225.67L421.79 228.09L419.49 225.67Z" fill="#FF8000"/>
<path d="M430.37 213.39L432.67 215.81L430.37 218.22L428.07 215.81Z" fill="#FF8000"/>
<path d="M438.94 200.11L441.24 202.52L438.94 204.94L436.64 202.52Z" fill="#FF8000"/>
<path d="M438.94 201.25L441.24 203.66L438.94 206.08L436.64 203.66Z" fill="#FF8000"/>
<path d="M447.52 178.10L449.82 180.51L447.52 182.93L445.22 180.51Z" fill="#FF8000"/>
<path d="M447.52 176.20L449.82 178.62L447.52 181.03L445.22 178.62Z" fill="#FF8000"/>
<path d="M456.10 146.60L458.40 149.02L456.10 151.43L453.80 149.02Z" fill="#FF8000"/>
<path d="M456.10 147.74L458.40 150.15L456.10 152.57L453.80 150.15Z" fill="#FF8000"/>
<path d="M464.68 139.01L466.98 141.43L464.68 143.84L462.38 141.43Z" fill="#FF8000"/>
<path d="M464.68 140.91L466.98 143.32L464.68 145.74L462.38 143.32Z" fill="#FF8000"/>
<path d="M473.26 135.59L475.56 138.01L473.26 140.42L470.96 138.01Z" fill="#FF8000"/>
<path d="M473.26 136.35L475.56 138.77L473.26 141.18L470.96 138.77Z" fill="#FF8000"/>
<path d="M481.84 134.46L484.14 136.87L481.84 139.29L479.54 136.87Z" fill="#FF8000"/>
<path d="M490.42 134.46L492.72 136.87L490.42 139.29L488.12 136.87Z" fill="#FF8000"/>
<path d="M499.00 135.97L501.30 138.39L499.00 140.80L496.70 138.39Z" fill="#FF8000"/>
<path d="M447.52 233.13L450.05 237.73L444.99 237.73Z" fill="#00C000"/>
<path d="M456.10 232.37L458.63 236.97L453.57 236.97Z" fill="#00C000"/>
<path d="M464.68 230.09L467.21 234.69L462.15 234.69Z" fill="#00C000"/>
<path d="M473.26 228.19L475.79 232.79L470.73 232.79Z" fill="#00C000"/>
<path d="M481.84 219.46L484.37 224.06L479.31 224.06Z" fill="#00C000"/>
<path d="M490.42 207.70L492.95 212.30L487.89 212.30Z" fill="#00C000"/>
<path d="M499.00 169.37L501.53 173.97L496.47 173.97Z" fill="#00C000"/>
<path d="M499.00 173.17L501.53 177.77L496.47 177.77Z" fill="#00C000"/>
<path d="M464.68 237.58L467.21 232.98L462.15 232.98Z" fill="#A000E0"/>
<path d="M473.26 237.20L475.79 232.60L470.73 232.60Z" fill="#A000E0"/>
<path d="M481.84 234.92L484.37 230.32L479.31 230.32Z" fill="#A000E0"/>
<path d="M490.42 232.26L492.95 227.66L487.89 227.66Z" fill="#A000E0"/>
<path d="M499.00 226.19L501.53 221.59L496.47 221.59Z" fill="#A000E0"/>
<rect x="402.33" y="233.24" width="4.60" height="4.60" fill="#000000"/>
<rect x="410.91" y="233.62" width="4.60" height="4.60" fill="#000000"/>
<rect x="419.49" y="233.24" width="4.60" height="4.60" fill="#000000"/>
<rect x="436.64" y="232.10" width="4.60" height="4.60" fill="#000000"/>
<rect x="453.80" y="233.24" width="4.60" height="4.60" fill="#000000"/>
<rect x="462.38" y="233.24" width="4.60" height="4.60" fill="#000000"/>
<rect x="496.70" y="232.10" width="4.60" height="4.60" fill="#000000"/>
<line x1="385.00" y1="236.30" x2="499.20" y2="236.30" stroke="#000" stroke-width="1.3"/>
<line x1="385.00" y1="236.90" x2="385.00" y2="121.70" stroke="#000" stroke-width="1.3"/>
<line x1="380.40" y1="236.30" x2="385.00" y2="236.30" stroke="#000" stroke-width="1.1"/>
<text x="379.20" y="239.30" font-size="8.5" text-anchor="end" fill="#000">0</text>
<line x1="380.40" y1="198.35" x2="385.00" y2="198.35" stroke="#000" stroke-width="1.1"/>
<text x="379.20" y="201.35" font-size="8.5" text-anchor="end" fill="#000">1</text>
<line x1="380.40" y1="160.40" x2="385.00" y2="160.40" stroke="#000" stroke-width="1.1"/>
<text x="379.20" y="163.40" font-size="8.5" text-anchor="end" fill="#000">2</text>
<line x1="380.40" y1="122.45" x2="385.00" y2="122.45" stroke="#000" stroke-width="1.1"/>
<text x="379.20" y="125.45" font-size="8.5" text-anchor="end" fill="#000">3</text>
<line x1="385.00" y1="236.30" x2="385.00" y2="240.30" stroke="#000" stroke-width="1.1"/>
<text x="385.00" y="250.80" font-size="8.5" text-anchor="middle" fill="#000">0.001</text>
<line x1="413.50" y1="236.30" x2="413.50" y2="240.30" stroke="#000" stroke-width="1.1"/>
<text x="413.50" y="250.80" font-size="8.5" text-anchor="middle" fill="#000">0.01</text>
<line x1="442.00" y1="236.30" x2="442.00" y2="240.30" stroke="#000" stroke-width="1.1"/>
<text x="442.00" y="250.80" font-size="8.5" text-anchor="middle" fill="#000">0.1</text>
<line x1="470.50" y1="236.30" x2="470.50" y2="240.30" stroke="#000" stroke-width="1.1"/>
<text x="470.50" y="250.80" font-size="8.5" text-anchor="middle" fill="#000">1</text>
<line x1="499.00" y1="236.30" x2="499.00" y2="240.30" stroke="#000" stroke-width="1.1"/>
<text x="499.00" y="250.80" font-size="8.5" text-anchor="middle" fill="#000">10</text>
<text x="442.00" y="264.00" font-size="8.8" text-anchor="middle" fill="#000">µg/mL</text>
<text x="369.60" y="179.40" font-size="10.3" text-anchor="middle" fill="#000" transform="rotate(-90 369.60 179.40)" textLength="32.0" lengthAdjust="spacingAndGlyphs">Abs450</text>
<text x="546.20" y="109.20" font-size="26" text-anchor="start" fill="#000">d</text>
<text x="614.90" y="108.10" font-size="11" text-anchor="middle" fill="#000">iGL-CV3-25</text>
<polyline points="616.76,236.12 617.21,236.11 617.67,236.10 618.13,236.09 618.58,236.07 619.04,236.06 619.49,236.05 619.95,236.03 620.41,236.02 620.86,236.00 621.32,235.98 621.77,235.96 622.23,235.94 622.69,235.92 623.14,235.90 623.60,235.88 624.06,235.85 624.51,235.83 624.97,235.80 625.42,235.77 625.88,235.74 626.34,235.71 626.79,235.67 627.25,235.64 627.71,235.60 628.16,235.56 628.62,235.52 629.07,235.47 629.53,235.43 629.99,235.38 630.44,235.32 630.90,235.27 631.35,235.21 631.81,235.14 632.27,235.08 632.72,235.01 633.18,234.93 633.64,234.86 634.09,234.77 634.55,234.69 635.00,234.59 635.46,234.50 635.92,234.39 636.37,234.29 636.83,234.17 637.29,234.05 637.74,233.92 638.20,233.79 638.65,233.65 639.11,233.50 639.57,233.34 640.02,233.17 640.48,233.00 640.93,232.81 641.39,232.62 641.85,232.41 642.30,232.20 642.76,231.97 643.22,231.73 643.67,231.48 644.13,231.21 644.58,230.94 645.04,230.64 645.50,230.33 645.95,230.01 646.41,229.67 646.87,229.31 647.32,228.94 647.78,228.54 648.23,228.13 648.69,227.70 649.15,227.24 649.60,226.77 650.06,226.27 650.52,225.75 650.97,225.21 651.43,224.64 651.88,224.05 652.34,223.43 652.80,222.79 653.25,222.12 653.71,221.42 654.16,220.69 654.62,219.94 655.08,219.15 655.53,218.34 655.99,217.50 656.45,216.62 656.90,215.72 657.36,214.79 657.81,213.82 658.27,212.83 658.73,211.80 659.18,210.75 659.64,209.67 660.10,208.56 660.55,207.42 661.01,206.25 661.46,205.06 661.92,203.85 662.38,202.61 662.83,201.35 663.29,200.06 663.74,198.76 664.20,197.44 664.66,196.10 665.11,194.75 665.57,193.39 666.03,192.02 666.48,190.64 666.94,189.25 667.39,187.86 667.85,186.47 668.31,185.08 668.76,183.70 669.22,182.31 669.68,180.94 670.13,179.57 670.59,178.22 671.04,176.88 671.50,175.56" fill="none" stroke="#A000E0" stroke-width="1.1"/>
<polyline points="599.60,236.26 600.20,236.26 600.80,236.25 601.40,236.25 601.99,236.25 602.59,236.24 603.19,236.24 603.79,236.24 604.39,236.23 604.99,236.23 605.59,236.23 606.19,236.22 606.79,236.22 607.39,236.21 607.99,236.21 608.59,236.20 609.18,236.19 609.78,236.19 610.38,236.18 610.98,236.17 611.58,236.17 612.18,236.16 612.78,236.15 613.38,236.14 613.98,236.13 614.58,236.12 615.18,236.11 615.78,236.10 616.38,236.09 616.97,236.08 617.57,236.06 618.17,236.05 618.77,236.04 619.37,236.02 619.97,236.00 620.57,235.99 621.17,235.97 621.77,235.95 622.37,235.93 622.97,235.90 623.57,235.88 624.16,235.86 624.76,235.83 625.36,235.80 625.96,235.77 626.56,235.74 627.16,235.71 627.76,235.67 628.36,235.64 628.96,235.60 629.56,235.56 630.16,235.51 630.76,235.47 631.35,235.42 631.95,235.37 632.55,235.31 633.15,235.25 633.75,235.19 634.35,235.13 634.95,235.06 635.55,234.99 636.15,234.91 636.75,234.83 637.35,234.74 637.95,234.65 638.54,234.55 639.14,234.45 639.74,234.35 640.34,234.23 640.94,234.11 641.54,233.99 642.14,233.85 642.74,233.71 643.34,233.56 643.94,233.40 644.54,233.24 645.14,233.06 645.74,232.88 646.33,232.68 646.93,232.47 647.53,232.26 648.13,232.03 648.73,231.78 649.33,231.53 649.93,231.26 650.53,230.98 651.13,230.68 651.73,230.37 652.33,230.04 652.93,229.69 653.52,229.33 654.12,228.95 654.72,228.54 655.32,228.12 655.92,227.68 656.52,227.22 657.12,226.73 657.72,226.22 658.32,225.69 658.92,225.13 659.52,224.54 660.12,223.93 660.71,223.30 661.31,222.63 661.91,221.94 662.51,221.22 663.11,220.47 663.71,219.69 664.31,218.88 664.91,218.04 665.51,217.16 666.11,216.26 666.71,215.32 667.31,214.35 667.90,213.36 668.50,212.33 669.10,211.26 669.70,210.17 670.30,209.05 670.90,207.90 671.50,206.72" fill="none" stroke="#00C000" stroke-width="1.1"/>
<polyline points="557.50,236.30 558.45,236.29 559.40,236.29 560.35,236.29 561.30,236.29 562.25,236.29 563.20,236.29 564.15,236.29 565.10,236.28 566.05,236.28 567.00,236.28 567.95,236.28 568.90,236.27 569.85,236.27 570.80,236.26 571.75,236.26 572.70,236.25 573.65,236.24 574.60,236.23 575.55,236.22 576.50,236.21 577.45,236.20 578.40,236.18 579.35,236.16 580.30,236.14 581.25,236.12 582.20,236.09 583.15,236.05 584.10,236.01 585.05,235.97 586.00,235.92 586.95,235.86 587.90,235.79 588.85,235.71 589.80,235.62 590.75,235.51 591.70,235.39 592.65,235.25 593.60,235.09 594.55,234.90 595.50,234.68 596.45,234.43 597.40,234.14 598.35,233.81 599.30,233.44 600.25,233.00 601.20,232.50 602.15,231.93 603.10,231.28 604.05,230.54 605.00,229.70 605.95,228.74 606.90,227.66 607.85,226.44 608.80,225.07 609.75,223.54 610.70,221.83 611.65,219.94 612.60,217.85 613.55,215.57 614.50,213.09 615.45,210.41 616.40,207.54 617.35,204.49 618.30,201.28 619.25,197.94 620.20,194.49 621.15,190.96 622.10,187.40 623.05,183.84 624.00,180.31 624.95,176.85 625.90,173.51 626.85,170.29 627.80,167.24 628.75,164.36 629.70,161.68 630.65,159.19 631.60,156.90 632.55,154.81 633.50,152.91 634.45,151.20 635.40,149.66 636.35,148.29 637.30,147.06 638.25,145.98 639.20,145.02 640.15,144.17 641.10,143.43 642.05,142.77 643.00,142.20 643.95,141.70 644.90,141.27 645.85,140.88 646.80,140.55 647.75,140.27 648.70,140.02 649.65,139.80 650.60,139.61 651.55,139.45 652.50,139.30 653.45,139.18 654.40,139.07 655.35,138.98 656.30,138.90 657.25,138.83 658.20,138.77 659.15,138.72 660.10,138.68 661.05,138.64 662.00,138.60 662.95,138.57 663.90,138.55 664.85,138.53 665.80,138.51 666.75,138.49 667.70,138.48 668.65,138.47 669.60,138.46 670.55,138.45 671.50,138.44" fill="none" stroke="#FF8000" stroke-width="1.1"/>
<polyline points="557.50,226.14 558.45,225.83 559.40,225.47 560.35,225.05 561.30,224.56 562.25,224.00 563.20,223.34 564.15,222.58 565.10,221.71 566.05,220.70 567.00,219.55 567.95,218.24 568.90,216.75 569.85,215.06 570.80,213.17 571.75,211.07 572.70,208.74 573.65,206.18 574.60,203.40 575.55,200.41 576.50,197.21 577.45,193.85 578.40,190.35 579.35,186.75 580.30,183.09 581.25,179.43 582.20,175.80 583.15,172.25 584.10,168.84 585.05,165.58 586.00,162.51 586.95,159.64 587.90,157.00 588.85,154.59 589.80,152.40 590.75,150.43 591.70,148.68 592.65,147.12 593.60,145.74 594.55,144.53 595.50,143.47 596.45,142.55 597.40,141.75 598.35,141.06 599.30,140.46 600.25,139.94 601.20,139.50 602.15,139.12 603.10,138.79 604.05,138.51 605.00,138.27 605.95,138.06 606.90,137.89 607.85,137.74 608.80,137.61 609.75,137.50 610.70,137.41 611.65,137.33 612.60,137.26 613.55,137.20 614.50,137.15 615.45,137.11 616.40,137.08 617.35,137.05 618.30,137.02 619.25,137.00 620.20,136.98 621.15,136.96 622.10,136.95 623.05,136.94 624.00,136.93 624.95,136.92 625.90,136.91 626.85,136.91 627.80,136.90 628.75,136.90 629.70,136.89 630.65,136.89 631.60,136.89 632.55,136.88 633.50,136.88 634.45,136.88 635.40,136.88 636.35,136.88 637.30,136.88 638.25,136.88 639.20,136.88 640.15,136.87 641.10,136.87 642.05,136.87 643.00,136.87 643.95,136.87 644.90,136.87 645.85,136.87 646.80,136.87 647.75,136.87 648.70,136.87 649.65,136.87 650.60,136.87 651.55,136.87 652.50,136.87 653.45,136.87 654.40,136.87 655.35,136.87 656.30,136.87 657.25,136.87 658.20,136.87 659.15,136.87 660.10,136.87 661.05,136.87 662.00,136.87 662.95,136.87 663.90,136.87 664.85,136.87 665.80,136.87 666.75,136.87 667.70,136.87 668.65,136.87 669.60,136.87 670.55,136.87 671.50,136.87" fill="none" stroke="#000000" stroke-width="1.1"/>
<rect x="557.67" y="224.13" width="4.60" height="4.60" fill="#000000"/>
<rect x="566.25" y="210.09" width="4.60" height="4.60" fill="#000000"/>
<rect x="566.25" y="213.51" width="4.60" height="4.60" fill="#000000"/>
<rect x="574.83" y="191.50" width="4.60" height="4.60" fill="#000000"/>
<rect x="574.83" y="194.15" width="4.60" height="4.60" fill="#000000"/>
<rect x="583.41" y="158.10" width="4.60" height="4.60" fill="#000000"/>
<rect x="591.99" y="137.23" width="4.60" height="4.60" fill="#000000"/>
<rect x="600.57" y="134.19" width="4.60" height="4.60" fill="#000000"/>
<rect x="609.14" y="134.19" width="4.60" height="4.60" fill="#000000"/>
<rect x="617.72" y="134.57" width="4.60" height="4.60" fill="#000000"/>
<rect x="626.30" y="134.95" width="4.60" height="4.60" fill="#000000"/>
<rect x="634.88" y="135.33" width="4.60" height="4.60" fill="#000000"/>
<rect x="643.46" y="135.71" width="4.60" height="4.60" fill="#000000"/>
<rect x="652.04" y="135.71" width="4.60" height="4.60" fill="#000000"/>
<rect x="660.62" y="136.47" width="4.60" height="4.60" fill="#000000"/>
<rect x="669.20" y="137.61" width="4.60" height="4.60" fill="#000000"/>
<path d="M577.13 233.51L579.43 235.92L577.13 238.34L574.83 235.92Z" fill="#FF8000"/>
<path d="M585.71 232.75L588.01 235.16L585.71 237.58L583.41 235.16Z" fill="#FF8000"/>
<path d="M594.29 229.71L596.59 232.13L594.29 234.54L591.99 232.13Z" fill="#FF8000"/>
<path d="M602.87 224.40L605.17 226.81L602.87 229.23L600.57 226.81Z" fill="#FF8000"/>
<path d="M611.44 208.84L613.74 211.25L611.44 213.67L609.14 211.25Z" fill="#FF8000"/>
<path d="M611.44 212.63L613.74 215.05L611.44 217.46L609.14 215.05Z" fill="#FF8000"/>
<path d="M620.02 193.28L622.32 195.69L620.02 198.11L617.72 195.69Z" fill="#FF8000"/>
<path d="M628.60 156.85L630.90 159.26L628.60 161.68L626.30 159.26Z" fill="#FF8000"/>
<path d="M628.60 163.30L630.90 165.71L628.60 168.13L626.30 165.71Z" fill="#FF8000"/>
<path d="M637.18 139.01L639.48 141.43L637.18 143.84L634.88 141.43Z" fill="#FF8000"/>
<path d="M645.76 138.25L648.06 140.67L645.76 143.08L643.46 140.67Z" fill="#FF8000"/>
<path d="M654.34 135.97L656.64 138.39L654.34 140.80L652.04 138.39Z" fill="#FF8000"/>
<path d="M662.92 135.97L665.22 138.39L662.92 140.80L660.62 138.39Z" fill="#FF8000"/>
<path d="M671.50 135.97L673.80 138.39L671.50 140.80L669.20 138.39Z" fill="#FF8000"/>
<path d="M620.02 237.58L622.55 232.98L617.49 232.98Z" fill="#A000E0"/>
<path d="M628.60 237.58L631.13 232.98L626.07 232.98Z" fill="#A000E0"/>
<path d="M637.18 233.40L639.71 228.80L634.65 228.80Z" fill="#A000E0"/>
<path d="M645.76 230.37L648.29 225.77L643.23 225.77Z" fill="#A000E0"/>
<path d="M654.34 217.46L656.87 212.86L651.81 212.86Z" fill="#A000E0"/>
<path d="M654.34 226.19L656.87 221.59L651.81 221.59Z" fill="#A000E0"/>
<path d="M662.92 204.56L665.45 199.96L660.39 199.96Z" fill="#A000E0"/>
<path d="M662.92 209.49L665.45 204.89L660.39 204.89Z" fill="#A000E0"/>
<path d="M671.50 169.27L674.03 164.67L668.97 164.67Z" fill="#A000E0"/>
<path d="M671.50 183.31L674.03 178.71L668.97 178.71Z" fill="#A000E0"/>
<path d="M602.87 233.89L605.40 238.49L600.34 238.49Z" fill="#00C000"/>
<path d="M611.44 233.89L613.97 238.49L608.91 238.49Z" fill="#00C000"/>
<path d="M620.02 233.89L622.55 238.49L617.49 238.49Z" fill="#00C000"/>
<path d="M628.60 233.51L631.13 238.11L626.07 238.11Z" fill="#00C000"/>
<path d="M637.18 231.61L639.71 236.21L634.65 236.21Z" fill="#00C000"/>
<path d="M645.76 230.85L648.29 235.45L643.23 235.45Z" fill="#00C000"/>
<path d="M654.34 226.30L656.87 230.90L651.81 230.90Z" fill="#00C000"/>
<path d="M662.92 216.81L665.45 221.41L660.39 221.41Z" fill="#00C000"/>
<path d="M671.50 199.73L674.03 204.33L668.97 204.33Z" fill="#00C000"/>
<path d="M671.50 208.08L674.03 212.68L668.97 212.68Z" fill="#00C000"/>
<line x1="557.50" y1="236.30" x2="671.70" y2="236.30" stroke="#000" stroke-width="1.3"/>
<line x1="557.50" y1="236.90" x2="557.50" y2="121.70" stroke="#000" stroke-width="1.3"/>
<line x1="552.90" y1="236.30" x2="557.50" y2="236.30" stroke="#000" stroke-width="1.1"/>
<text x="551.70" y="239.30" font-size="8.5" text-anchor="end" fill="#000">0</text>
<line x1="552.90" y1="198.35" x2="557.50" y2="198.35" stroke="#000" stroke-width="1.1"/>
<text x="551.70" y="201.35" font-size="8.5" text-anchor="end" fill="#000">1</text>
<line x1="552.90" y1="160.40" x2="557.50" y2="160.40" stroke="#000" stroke-width="1.1"/>
<text x="551.70" y="163.40" font-size="8.5" text-anchor="end" fill="#000">2</text>
<line x1="552.90" y1="122.45" x2="557.50" y2="122.45" stroke="#000" stroke-width="1.1"/>
<text x="551.70" y="125.45" font-size="8.5" text-anchor="end" fill="#000">3</text>
<line x1="557.50" y1="236.30" x2="557.50" y2="240.30" stroke="#000" stroke-width="1.1"/>
<text x="557.50" y="250.80" font-size="8.5" text-anchor="middle" fill="#000">0.001</text>
<line x1="586.00" y1="236.30" x2="586.00" y2="240.30" stroke="#000" stroke-width="1.1"/>
<text x="586.00" y="250.80" font-size="8.5" text-anchor="middle" fill="#000">0.01</text>
<line x1="614.50" y1="236.30" x2="614.50" y2="240.30" stroke="#000" stroke-width="1.1"/>
<text x="614.50" y="250.80" font-size="8.5" text-anchor="middle" fill="#000">0.1</text>
<line x1="643.00" y1="236.30" x2="643.00" y2="240.30" stroke="#000" stroke-width="1.1"/>
<text x="643.00" y="250.80" font-size="8.5" text-anchor="middle" fill="#000">1</text>
<line x1="671.50" y1="236.30" x2="671.50" y2="240.30" stroke="#000" stroke-width="1.1"/>
<text x="671.50" y="250.80" font-size="8.5" text-anchor="middle" fill="#000">10</text>
<text x="614.90" y="264.00" font-size="8.8" text-anchor="middle" fill="#000">µg/ml</text>
<text x="542.10" y="179.40" font-size="10.3" text-anchor="middle" fill="#000" transform="rotate(-90 542.10 179.40)" textLength="32.0" lengthAdjust="spacingAndGlyphs">Abs450</text>
<text x="30.90" y="303.30" font-size="25" text-anchor="start" fill="#000">e</text>
<text x="114.00" y="304.00" font-size="10" text-anchor="middle" fill="#000">Wuhan-Hu-1</text>
<line x1="39.80" y1="410.80" x2="188.80" y2="410.80" stroke="#6b6b6b" stroke-width="1.7"/>
<line x1="40.60" y1="410.80" x2="40.60" y2="312.20" stroke="#6b6b6b" stroke-width="1.7"/>
<line x1="37.60" y1="410.80" x2="40.60" y2="410.80" stroke="#6b6b6b" stroke-width="1.1"/>
<text x="37.20" y="413.70" font-size="8.2" text-anchor="end" fill="#222">0</text>
<line x1="37.60" y1="386.27" x2="40.60" y2="386.27" stroke="#6b6b6b" stroke-width="1.1"/>
<text x="37.20" y="389.17" font-size="8.2" text-anchor="end" fill="#222">10</text>
<line x1="37.60" y1="361.75" x2="40.60" y2="361.75" stroke="#6b6b6b" stroke-width="1.1"/>
<text x="37.20" y="364.65" font-size="8.2" text-anchor="end" fill="#222">20</text>
<line x1="37.60" y1="337.23" x2="40.60" y2="337.23" stroke="#6b6b6b" stroke-width="1.1"/>
<text x="37.20" y="340.12" font-size="8.2" text-anchor="end" fill="#222">30</text>
<line x1="37.60" y1="312.70" x2="40.60" y2="312.70" stroke="#6b6b6b" stroke-width="1.1"/>
<text x="37.20" y="315.60" font-size="8.2" text-anchor="end" fill="#222">40</text>
<line x1="59.40" y1="410.80" x2="59.40" y2="413.80" stroke="#6b6b6b" stroke-width="1.1"/>
<text x="61.20" y="420.40" font-size="8.3" text-anchor="end" fill="#222" transform="rotate(-45 61.20 420.40)">CV3-25</text>
<line x1="87.05" y1="410.80" x2="87.05" y2="413.80" stroke="#6b6b6b" stroke-width="1.1"/>
<text x="88.85" y="420.40" font-size="8.3" text-anchor="end" fill="#222" transform="rotate(-45 88.85 420.40)">CV30</text>
<line x1="114.70" y1="410.80" x2="114.70" y2="413.80" stroke="#6b6b6b" stroke-width="1.1"/>
<text x="116.50" y="420.40" font-size="8.3" text-anchor="end" fill="#222" transform="rotate(-45 116.50 420.40)">CC40.8</text>
<line x1="142.35" y1="410.80" x2="142.35" y2="413.80" stroke="#6b6b6b" stroke-width="1.1"/>
<text x="144.15" y="420.40" font-size="8.3" text-anchor="end" fill="#222" transform="rotate(-45 144.15 420.40)">B6</text>
<line x1="170.00" y1="410.80" x2="170.00" y2="413.80" stroke="#6b6b6b" stroke-width="1.1"/>
<text x="171.80" y="420.40" font-size="8.3" text-anchor="end" fill="#222" transform="rotate(-45 171.80 420.40)">AMMO1</text>
<rect x="50.30" y="337.72" width="18.20" height="73.08" fill="#0000FF"/>
<line x1="59.40" y1="339.25" x2="59.40" y2="336.18" stroke="#333" stroke-width="0.9"/>
<line x1="55.20" y1="336.18" x2="63.60" y2="336.18" stroke="#333" stroke-width="0.9"/>
<line x1="55.20" y1="339.25" x2="63.60" y2="339.25" stroke="#333" stroke-width="0.9"/>
<circle cx="52.20" cy="338.94" r="1.95" fill="#000"/>
<circle cx="59.40" cy="336.00" r="1.95" fill="#000"/>
<circle cx="66.70" cy="338.21" r="1.95" fill="#000"/>
<rect x="78.45" y="342.63" width="17.20" height="68.17" fill="#808080" stroke="#111" stroke-width="1"/>
<line x1="87.05" y1="343.60" x2="87.05" y2="339.19" stroke="#333" stroke-width="0.9"/>
<line x1="82.85" y1="339.19" x2="91.25" y2="339.19" stroke="#333" stroke-width="0.9"/>
<line x1="82.85" y1="343.60" x2="91.25" y2="343.60" stroke="#333" stroke-width="0.9"/>
<circle cx="79.75" cy="343.60" r="1.95" fill="#000"/>
<circle cx="87.05" cy="339.19" r="1.95" fill="#000"/>
<circle cx="94.55" cy="341.39" r="1.95" fill="#000"/>
<rect x="106.10" y="342.38" width="17.20" height="68.42" fill="#808080" stroke="#111" stroke-width="1"/>
<line x1="114.70" y1="343.92" x2="114.70" y2="340.18" stroke="#333" stroke-width="0.9"/>
<line x1="110.50" y1="340.18" x2="118.90" y2="340.18" stroke="#333" stroke-width="0.9"/>
<line x1="110.50" y1="343.92" x2="118.90" y2="343.92" stroke="#333" stroke-width="0.9"/>
<circle cx="110.90" cy="340.41" r="1.95" fill="#000"/>
<circle cx="110.90" cy="344.09" r="1.95" fill="#000"/>
<circle cx="119.00" cy="341.64" r="1.95" fill="#000"/>
<rect x="133.75" y="348.52" width="17.20" height="62.28" fill="#808080" stroke="#111" stroke-width="1"/>
<line x1="142.35" y1="350.04" x2="142.35" y2="344.19" stroke="#333" stroke-width="0.9"/>
<line x1="138.15" y1="344.19" x2="146.55" y2="344.19" stroke="#333" stroke-width="0.9"/>
<line x1="138.15" y1="350.04" x2="146.55" y2="350.04" stroke="#333" stroke-width="0.9"/>
<circle cx="138.35" cy="349.49" r="1.95" fill="#000"/>
<circle cx="142.35" cy="343.85" r="1.95" fill="#000"/>
<circle cx="146.35" cy="348.02" r="1.95" fill="#000"/>
<circle cx="166.00" cy="410.68" r="1.95" fill="#000"/>
<circle cx="174.00" cy="410.68" r="1.95" fill="#000"/>
<text x="25.00" y="360.55" font-size="8.3" text-anchor="middle" fill="#222" transform="rotate(-90 25.00 360.55)">% Positive cells</text>
<text x="277.00" y="303.10" font-size="25" text-anchor="start" fill="#000">f</text>
<text x="359.80" y="303.40" font-size="10" text-anchor="middle" fill="#000">SARS-CoV-1</text>
<line x1="286.40" y1="408.50" x2="433.20" y2="408.50" stroke="#1a1a1a" stroke-width="1.3"/>
<line x1="287.20" y1="408.50" x2="287.20" y2="311.30" stroke="#1a1a1a" stroke-width="1.3"/>
<line x1="284.20" y1="408.50" x2="287.20" y2="408.50" stroke="#1a1a1a" stroke-width="1.1"/>
<text x="283.80" y="411.40" font-size="8.2" text-anchor="end" fill="#222">0</text>
<line x1="284.20" y1="384.32" x2="287.20" y2="384.32" stroke="#1a1a1a" stroke-width="1.1"/>
<text x="283.80" y="387.22" font-size="8.2" text-anchor="end" fill="#222">10</text>
<line x1="284.20" y1="360.15" x2="287.20" y2="360.15" stroke="#1a1a1a" stroke-width="1.1"/>
<text x="283.80" y="363.05" font-size="8.2" text-anchor="end" fill="#222">20</text>
<line x1="284.20" y1="335.98" x2="287.20" y2="335.98" stroke="#1a1a1a" stroke-width="1.1"/>
<text x="283.80" y="338.88" font-size="8.2" text-anchor="end" fill="#222">30</text>
<line x1="284.20" y1="311.80" x2="287.20" y2="311.80" stroke="#1a1a1a" stroke-width="1.1"/>
<text x="283.80" y="314.70" font-size="8.2" text-anchor="end" fill="#222">40</text>
<line x1="305.90" y1="408.50" x2="305.90" y2="411.50" stroke="#1a1a1a" stroke-width="1.1"/>
<text x="307.70" y="418.10" font-size="8.3" text-anchor="end" fill="#222" transform="rotate(-45 307.70 418.10)">CV3-25</text>
<line x1="333.00" y1="408.50" x2="333.00" y2="411.50" stroke="#1a1a1a" stroke-width="1.1"/>
<text x="334.80" y="418.10" font-size="8.3" text-anchor="end" fill="#222" transform="rotate(-45 334.80 418.10)">CV30</text>
<line x1="360.10" y1="408.50" x2="360.10" y2="411.50" stroke="#1a1a1a" stroke-width="1.1"/>
<text x="361.90" y="418.10" font-size="8.3" text-anchor="end" fill="#222" transform="rotate(-45 361.90 418.10)">CC40.8</text>
<line x1="387.20" y1="408.50" x2="387.20" y2="411.50" stroke="#1a1a1a" stroke-width="1.1"/>
<text x="389.00" y="418.10" font-size="8.3" text-anchor="end" fill="#222" transform="rotate(-45 389.00 418.10)">B6</text>
<line x1="414.30" y1="408.50" x2="414.30" y2="411.50" stroke="#1a1a1a" stroke-width="1.1"/>
<text x="416.10" y="418.10" font-size="8.3" text-anchor="end" fill="#222" transform="rotate(-45 416.10 418.10)">AMMO1</text>
<rect x="296.80" y="346.13" width="18.20" height="62.37" fill="#0000FF"/>
<line x1="305.90" y1="348.59" x2="305.90" y2="342.06" stroke="#333" stroke-width="0.9"/>
<line x1="301.70" y1="342.06" x2="310.10" y2="342.06" stroke="#333" stroke-width="0.9"/>
<line x1="301.70" y1="348.59" x2="310.10" y2="348.59" stroke="#333" stroke-width="0.9"/>
<circle cx="301.90" cy="348.55" r="1.95" fill="#000"/>
<circle cx="301.90" cy="342.02" r="1.95" fill="#000"/>
<circle cx="309.90" cy="345.40" r="1.95" fill="#000"/>
<circle cx="326.00" cy="407.29" r="1.95" fill="#000"/>
<circle cx="333.00" cy="406.57" r="1.95" fill="#000"/>
<circle cx="340.00" cy="406.81" r="1.95" fill="#000"/>
<rect x="351.50" y="393.77" width="17.20" height="14.73" fill="#808080" stroke="#111" stroke-width="1"/>
<line x1="360.10" y1="404.07" x2="360.10" y2="381.18" stroke="#333" stroke-width="0.9"/>
<line x1="355.90" y1="381.18" x2="364.30" y2="381.18" stroke="#333" stroke-width="0.9"/>
<line x1="355.90" y1="404.07" x2="364.30" y2="404.07" stroke="#333" stroke-width="0.9"/>
<circle cx="360.10" cy="403.18" r="1.95" fill="#000"/>
<circle cx="360.10" cy="394.24" r="1.95" fill="#000"/>
<circle cx="360.10" cy="380.46" r="1.95" fill="#000"/>
<rect x="378.60" y="373.95" width="17.20" height="34.55" fill="#808080" stroke="#111" stroke-width="1"/>
<line x1="387.20" y1="379.01" x2="387.20" y2="367.56" stroke="#333" stroke-width="0.9"/>
<line x1="383.00" y1="367.56" x2="391.40" y2="367.56" stroke="#333" stroke-width="0.9"/>
<line x1="383.00" y1="379.01" x2="391.40" y2="379.01" stroke="#333" stroke-width="0.9"/>
<circle cx="383.20" cy="376.83" r="1.95" fill="#000"/>
<circle cx="387.20" cy="366.68" r="1.95" fill="#000"/>
<circle cx="391.20" cy="376.35" r="1.95" fill="#000"/>
<circle cx="407.30" cy="407.90" r="1.95" fill="#000"/>
<circle cx="414.30" cy="406.93" r="1.95" fill="#000"/>
<circle cx="421.30" cy="407.41" r="1.95" fill="#000"/>
<text x="271.60" y="358.95" font-size="8.3" text-anchor="middle" fill="#222" transform="rotate(-90 271.60 358.95)">% Positive cells</text>
<text x="520.20" y="303.00" font-size="25" text-anchor="start" fill="#000">g</text>
<text x="600.80" y="302.20" font-size="10" text-anchor="middle" fill="#000">WIV1</text>
<line x1="527.10" y1="407.90" x2="674.00" y2="407.90" stroke="#505050" stroke-width="1.4"/>
<line x1="527.90" y1="407.90" x2="527.90" y2="310.40" stroke="#505050" stroke-width="1.4"/>
<line x1="524.90" y1="407.90" x2="527.90" y2="407.90" stroke="#505050" stroke-width="1.1"/>
<text x="524.50" y="410.80" font-size="8.2" text-anchor="end" fill="#222">0</text>
<line x1="524.90" y1="383.65" x2="527.90" y2="383.65" stroke="#505050" stroke-width="1.1"/>
<text x="524.50" y="386.55" font-size="8.2" text-anchor="end" fill="#222">10</text>
<line x1="524.90" y1="359.40" x2="527.90" y2="359.40" stroke="#505050" stroke-width="1.1"/>
<text x="524.50" y="362.30" font-size="8.2" text-anchor="end" fill="#222">20</text>
<line x1="524.90" y1="335.15" x2="527.90" y2="335.15" stroke="#505050" stroke-width="1.1"/>
<text x="524.50" y="338.05" font-size="8.2" text-anchor="end" fill="#222">30</text>
<line x1="524.90" y1="310.90" x2="527.90" y2="310.90" stroke="#505050" stroke-width="1.1"/>
<text x="524.50" y="313.80" font-size="8.2" text-anchor="end" fill="#222">40</text>
<line x1="546.20" y1="407.90" x2="546.20" y2="410.90" stroke="#505050" stroke-width="1.1"/>
<text x="548.00" y="417.50" font-size="8.3" text-anchor="end" fill="#222" transform="rotate(-45 548.00 417.50)">CV3-25</text>
<line x1="573.60" y1="407.90" x2="573.60" y2="410.90" stroke="#505050" stroke-width="1.1"/>
<text x="575.40" y="417.50" font-size="8.3" text-anchor="end" fill="#222" transform="rotate(-45 575.40 417.50)">CV30</text>
<line x1="601.00" y1="407.90" x2="601.00" y2="410.90" stroke="#505050" stroke-width="1.1"/>
<text x="602.80" y="417.50" font-size="8.3" text-anchor="end" fill="#222" transform="rotate(-45 602.80 417.50)">CC40.8</text>
<line x1="628.40" y1="407.90" x2="628.40" y2="410.90" stroke="#505050" stroke-width="1.1"/>
<text x="630.20" y="417.50" font-size="8.3" text-anchor="end" fill="#222" transform="rotate(-45 630.20 417.50)">B6</text>
<line x1="655.80" y1="407.90" x2="655.80" y2="410.90" stroke="#505050" stroke-width="1.1"/>
<text x="657.60" y="417.50" font-size="8.3" text-anchor="end" fill="#222" transform="rotate(-45 657.60 417.50)">AMMO1</text>
<rect x="537.10" y="335.15" width="18.20" height="72.75" fill="#0000FF"/>
<line x1="546.20" y1="336.08" x2="546.20" y2="333.41" stroke="#333" stroke-width="0.9"/>
<line x1="542.00" y1="333.41" x2="550.40" y2="333.41" stroke="#333" stroke-width="0.9"/>
<line x1="542.00" y1="336.08" x2="550.40" y2="336.08" stroke="#333" stroke-width="0.9"/>
<circle cx="539.20" cy="335.63" r="1.95" fill="#000"/>
<circle cx="546.20" cy="333.21" r="1.95" fill="#000"/>
<circle cx="553.20" cy="335.39" r="1.95" fill="#000"/>
<circle cx="566.60" cy="407.66" r="1.95" fill="#000"/>
<circle cx="573.60" cy="407.66" r="1.95" fill="#000"/>
<circle cx="580.60" cy="407.66" r="1.95" fill="#000"/>
<rect x="592.40" y="366.69" width="17.20" height="41.21" fill="#808080" stroke="#111" stroke-width="1"/>
<line x1="601.00" y1="368.47" x2="601.00" y2="362.29" stroke="#333" stroke-width="0.9"/>
<line x1="596.80" y1="362.29" x2="605.20" y2="362.29" stroke="#333" stroke-width="0.9"/>
<line x1="596.80" y1="368.47" x2="605.20" y2="368.47" stroke="#333" stroke-width="0.9"/>
<circle cx="597.00" cy="367.40" r="1.95" fill="#000"/>
<circle cx="601.00" cy="361.82" r="1.95" fill="#000"/>
<circle cx="605.00" cy="366.92" r="1.95" fill="#000"/>
<rect x="619.80" y="355.05" width="17.20" height="52.85" fill="#808080" stroke="#111" stroke-width="1"/>
<line x1="628.40" y1="356.96" x2="628.40" y2="351.34" stroke="#333" stroke-width="0.9"/>
<line x1="624.20" y1="351.34" x2="632.60" y2="351.34" stroke="#333" stroke-width="0.9"/>
<line x1="624.20" y1="356.96" x2="632.60" y2="356.96" stroke="#333" stroke-width="0.9"/>
<circle cx="624.40" cy="356.00" r="1.95" fill="#000"/>
<circle cx="628.40" cy="350.91" r="1.95" fill="#000"/>
<circle cx="632.40" cy="355.52" r="1.95" fill="#000"/>
<text x="512.30" y="358.20" font-size="8.3" text-anchor="middle" fill="#222" transform="rotate(-90 512.30 358.20)">% Positive cells</text>
<text x="30.50" y="480.10" font-size="25" text-anchor="start" fill="#000">h</text>
<text x="114.40" y="476.90" font-size="10" text-anchor="middle" fill="#000">HCoV-HKU1</text>
<line x1="40.10" y1="583.90" x2="188.00" y2="583.90" stroke="#707070" stroke-width="1.7"/>
<line x1="40.90" y1="583.90" x2="40.90" y2="485.00" stroke="#707070" stroke-width="1.7"/>
<line x1="37.90" y1="583.90" x2="40.90" y2="583.90" stroke="#707070" stroke-width="1.1"/>
<text x="37.50" y="586.80" font-size="8.2" text-anchor="end" fill="#222">0</text>
<line x1="37.90" y1="559.30" x2="40.90" y2="559.30" stroke="#707070" stroke-width="1.1"/>
<text x="37.50" y="562.20" font-size="8.2" text-anchor="end" fill="#222">10</text>
<line x1="37.90" y1="534.70" x2="40.90" y2="534.70" stroke="#707070" stroke-width="1.1"/>
<text x="37.50" y="537.60" font-size="8.2" text-anchor="end" fill="#222">20</text>
<line x1="37.90" y1="510.10" x2="40.90" y2="510.10" stroke="#707070" stroke-width="1.1"/>
<text x="37.50" y="513.00" font-size="8.2" text-anchor="end" fill="#222">30</text>
<line x1="37.90" y1="485.50" x2="40.90" y2="485.50" stroke="#707070" stroke-width="1.1"/>
<text x="37.50" y="488.40" font-size="8.2" text-anchor="end" fill="#222">40</text>
<line x1="59.70" y1="583.90" x2="59.70" y2="586.90" stroke="#707070" stroke-width="1.1"/>
<text x="61.50" y="593.50" font-size="8.3" text-anchor="end" fill="#222" transform="rotate(-45 61.50 593.50)">CV3-25</text>
<line x1="87.30" y1="583.90" x2="87.30" y2="586.90" stroke="#707070" stroke-width="1.1"/>
<text x="89.10" y="593.50" font-size="8.3" text-anchor="end" fill="#222" transform="rotate(-45 89.10 593.50)">CV30</text>
<line x1="114.90" y1="583.90" x2="114.90" y2="586.90" stroke="#707070" stroke-width="1.1"/>
<text x="116.70" y="593.50" font-size="8.3" text-anchor="end" fill="#222" transform="rotate(-45 116.70 593.50)">CC40.8</text>
<line x1="142.50" y1="583.90" x2="142.50" y2="586.90" stroke="#707070" stroke-width="1.1"/>
<text x="144.30" y="593.50" font-size="8.3" text-anchor="end" fill="#222" transform="rotate(-45 144.30 593.50)">B6</text>
<line x1="170.10" y1="583.90" x2="170.10" y2="586.90" stroke="#707070" stroke-width="1.1"/>
<text x="171.90" y="593.50" font-size="8.3" text-anchor="end" fill="#222" transform="rotate(-45 171.90 593.50)">AMMO1</text>
<circle cx="52.50" cy="583.65" r="1.95" fill="#000"/>
<circle cx="59.70" cy="583.65" r="1.95" fill="#000"/>
<circle cx="67.00" cy="583.65" r="1.95" fill="#000"/>
<circle cx="80.10" cy="583.65" r="1.95" fill="#000"/>
<circle cx="87.30" cy="583.65" r="1.95" fill="#000"/>
<circle cx="94.60" cy="583.65" r="1.95" fill="#000"/>
<rect x="106.30" y="527.08" width="17.20" height="56.82" fill="#808080" stroke="#111" stroke-width="1"/>
<line x1="114.90" y1="527.57" x2="114.90" y2="524.77" stroke="#333" stroke-width="0.9"/>
<line x1="110.70" y1="524.77" x2="119.10" y2="524.77" stroke="#333" stroke-width="0.9"/>
<line x1="110.70" y1="527.57" x2="119.10" y2="527.57" stroke="#333" stroke-width="0.9"/>
<circle cx="107.90" cy="527.32" r="1.95" fill="#000"/>
<circle cx="114.90" cy="524.61" r="1.95" fill="#000"/>
<circle cx="121.90" cy="526.58" r="1.95" fill="#000"/>
<circle cx="138.00" cy="583.16" r="1.95" fill="#000"/>
<circle cx="146.50" cy="582.18" r="1.95" fill="#000"/>
<text x="25.30" y="533.50" font-size="8.3" text-anchor="middle" fill="#222" transform="rotate(-90 25.30 533.50)">% Positive cells</text>
<text x="277.30" y="480.00" font-size="25" text-anchor="start" fill="#000">i</text>
<text x="359.70" y="476.90" font-size="10" text-anchor="middle" fill="#000">HCoV-OC43</text>
<line x1="285.80" y1="583.60" x2="434.00" y2="583.60" stroke="#222222" stroke-width="1.3"/>
<line x1="286.60" y1="583.60" x2="286.60" y2="484.90" stroke="#222222" stroke-width="1.3"/>
<line x1="283.60" y1="583.60" x2="286.60" y2="583.60" stroke="#222222" stroke-width="1.1"/>
<text x="283.20" y="586.50" font-size="8.2" text-anchor="end" fill="#222">0</text>
<line x1="283.60" y1="559.05" x2="286.60" y2="559.05" stroke="#222222" stroke-width="1.1"/>
<text x="283.20" y="561.95" font-size="8.2" text-anchor="end" fill="#222">10</text>
<line x1="283.60" y1="534.50" x2="286.60" y2="534.50" stroke="#222222" stroke-width="1.1"/>
<text x="283.20" y="537.40" font-size="8.2" text-anchor="end" fill="#222">20</text>
<line x1="283.60" y1="509.95" x2="286.60" y2="509.95" stroke="#222222" stroke-width="1.1"/>
<text x="283.20" y="512.85" font-size="8.2" text-anchor="end" fill="#222">30</text>
<line x1="283.60" y1="485.40" x2="286.60" y2="485.40" stroke="#222222" stroke-width="1.1"/>
<text x="283.20" y="488.30" font-size="8.2" text-anchor="end" fill="#222">40</text>
<line x1="305.40" y1="583.60" x2="305.40" y2="586.60" stroke="#222222" stroke-width="1.1"/>
<text x="307.20" y="593.20" font-size="8.3" text-anchor="end" fill="#222" transform="rotate(-45 307.20 593.20)">CV3-25</text>
<line x1="332.90" y1="583.60" x2="332.90" y2="586.60" stroke="#222222" stroke-width="1.1"/>
<text x="334.70" y="593.20" font-size="8.3" text-anchor="end" fill="#222" transform="rotate(-45 334.70 593.20)">CV30</text>
<line x1="360.40" y1="583.60" x2="360.40" y2="586.60" stroke="#222222" stroke-width="1.1"/>
<text x="362.20" y="593.20" font-size="8.3" text-anchor="end" fill="#222" transform="rotate(-45 362.20 593.20)">CC40.8</text>
<line x1="387.90" y1="583.60" x2="387.90" y2="586.60" stroke="#222222" stroke-width="1.1"/>
<text x="389.70" y="593.20" font-size="8.3" text-anchor="end" fill="#222" transform="rotate(-45 389.70 593.20)">B6</text>
<line x1="415.40" y1="583.60" x2="415.40" y2="586.60" stroke="#222222" stroke-width="1.1"/>
<text x="417.20" y="593.20" font-size="8.3" text-anchor="end" fill="#222" transform="rotate(-45 417.20 593.20)">AMMO1</text>
<circle cx="298.20" cy="583.35" r="1.95" fill="#000"/>
<circle cx="305.40" cy="583.35" r="1.95" fill="#000"/>
<circle cx="312.70" cy="583.35" r="1.95" fill="#000"/>
<circle cx="325.70" cy="583.35" r="1.95" fill="#000"/>
<circle cx="332.90" cy="583.35" r="1.95" fill="#000"/>
<circle cx="340.20" cy="583.35" r="1.95" fill="#000"/>
<rect x="351.80" y="558.08" width="17.20" height="25.52" fill="#808080" stroke="#111" stroke-width="1"/>
<line x1="360.40" y1="559.22" x2="360.40" y2="555.60" stroke="#333" stroke-width="0.9"/>
<line x1="356.20" y1="555.60" x2="364.60" y2="555.60" stroke="#333" stroke-width="0.9"/>
<line x1="356.20" y1="559.22" x2="364.60" y2="559.22" stroke="#333" stroke-width="0.9"/>
<circle cx="354.40" cy="558.80" r="1.95" fill="#000"/>
<circle cx="360.40" cy="555.37" r="1.95" fill="#000"/>
<circle cx="366.40" cy="558.07" r="1.95" fill="#000"/>
<rect x="379.30" y="553.90" width="17.20" height="29.70" fill="#808080" stroke="#111" stroke-width="1"/>
<line x1="387.90" y1="556.74" x2="387.90" y2="548.43" stroke="#333" stroke-width="0.9"/>
<line x1="383.70" y1="548.43" x2="392.10" y2="548.43" stroke="#333" stroke-width="0.9"/>
<line x1="383.70" y1="556.74" x2="392.10" y2="556.74" stroke="#333" stroke-width="0.9"/>
<circle cx="383.90" cy="556.10" r="1.95" fill="#000"/>
<circle cx="387.90" cy="548.00" r="1.95" fill="#000"/>
<circle cx="391.90" cy="553.65" r="1.95" fill="#000"/>
<circle cx="415.40" cy="583.60" r="1.95" fill="#000"/>
<text x="271.00" y="533.30" font-size="8.3" text-anchor="middle" fill="#222" transform="rotate(-90 271.00 533.30)">% Positive cells</text>
<text x="516.50" y="480.10" font-size="25" text-anchor="start" fill="#000">j</text>
<text x="600.80" y="480.90" font-size="10" text-anchor="middle" fill="#000">MERS-CoV</text>
<line x1="527.20" y1="586.00" x2="673.00" y2="586.00" stroke="#404040" stroke-width="1.4"/>
<line x1="528.00" y1="586.00" x2="528.00" y2="488.90" stroke="#404040" stroke-width="1.4"/>
<line x1="525.00" y1="586.00" x2="528.00" y2="586.00" stroke="#404040" stroke-width="1.1"/>
<text x="524.60" y="588.90" font-size="8.2" text-anchor="end" fill="#222">0</text>
<line x1="525.00" y1="561.85" x2="528.00" y2="561.85" stroke="#404040" stroke-width="1.1"/>
<text x="524.60" y="564.75" font-size="8.2" text-anchor="end" fill="#222">10</text>
<line x1="525.00" y1="537.70" x2="528.00" y2="537.70" stroke="#404040" stroke-width="1.1"/>
<text x="524.60" y="540.60" font-size="8.2" text-anchor="end" fill="#222">20</text>
<line x1="525.00" y1="513.55" x2="528.00" y2="513.55" stroke="#404040" stroke-width="1.1"/>
<text x="524.60" y="516.45" font-size="8.2" text-anchor="end" fill="#222">30</text>
<line x1="525.00" y1="489.40" x2="528.00" y2="489.40" stroke="#404040" stroke-width="1.1"/>
<text x="524.60" y="492.30" font-size="8.2" text-anchor="end" fill="#222">40</text>
<line x1="545.80" y1="586.00" x2="545.80" y2="589.00" stroke="#404040" stroke-width="1.1"/>
<text x="547.60" y="595.60" font-size="8.3" text-anchor="end" fill="#222" transform="rotate(-45 547.60 595.60)">CV3-25</text>
<line x1="572.95" y1="586.00" x2="572.95" y2="589.00" stroke="#404040" stroke-width="1.1"/>
<text x="574.75" y="595.60" font-size="8.3" text-anchor="end" fill="#222" transform="rotate(-45 574.75 595.60)">CV30</text>
<line x1="600.10" y1="586.00" x2="600.10" y2="589.00" stroke="#404040" stroke-width="1.1"/>
<text x="601.90" y="595.60" font-size="8.3" text-anchor="end" fill="#222" transform="rotate(-45 601.90 595.60)">CC40.8</text>
<line x1="627.25" y1="586.00" x2="627.25" y2="589.00" stroke="#404040" stroke-width="1.1"/>
<text x="629.05" y="595.60" font-size="8.3" text-anchor="end" fill="#222" transform="rotate(-45 629.05 595.60)">B6</text>
<line x1="654.40" y1="586.00" x2="654.40" y2="589.00" stroke="#404040" stroke-width="1.1"/>
<text x="656.20" y="595.60" font-size="8.3" text-anchor="end" fill="#222" transform="rotate(-45 656.20 595.60)">AMMO1</text>
<circle cx="572.95" cy="585.76" r="1.95" fill="#000"/>
<circle cx="593.10" cy="585.76" r="1.95" fill="#000"/>
<circle cx="600.10" cy="585.76" r="1.95" fill="#000"/>
<circle cx="607.10" cy="585.76" r="1.95" fill="#000"/>
<rect x="618.65" y="525.64" width="17.20" height="60.36" fill="#808080" stroke="#111" stroke-width="1"/>
<line x1="627.25" y1="526.45" x2="627.25" y2="522.07" stroke="#333" stroke-width="0.9"/>
<line x1="623.05" y1="522.07" x2="631.45" y2="522.07" stroke="#333" stroke-width="0.9"/>
<line x1="623.05" y1="526.45" x2="631.45" y2="526.45" stroke="#333" stroke-width="0.9"/>
<circle cx="623.25" cy="526.59" r="1.95" fill="#000"/>
<circle cx="623.25" cy="522.24" r="1.95" fill="#000"/>
<circle cx="631.25" cy="523.93" r="1.95" fill="#000"/>
<text x="512.40" y="536.50" font-size="8.3" text-anchor="middle" fill="#222" transform="rotate(-90 512.40 536.50)">% Positive cells</text>
<text x="31.00" y="663.60" font-size="25" text-anchor="start" fill="#000">k</text>
<text x="106.70" y="662.30" font-size="11.6" text-anchor="middle" fill="#000" textLength="71.8" lengthAdjust="spacingAndGlyphs">HCoV-OC43</text>
<text x="108.40" y="676.40" font-size="11.6" text-anchor="middle" fill="#000" textLength="72.3" lengthAdjust="spacingAndGlyphs">neutralization</text>
<line x1="44.1" y1="760.40" x2="174" y2="760.40" stroke="#000" stroke-width="1.3" stroke-dasharray="1.1 2.9"/>
<polyline points="63.90,822.65 64.85,820.06 65.80,816.99 66.75,814.15 67.70,812.09 68.66,810.83 69.61,810.14 70.56,809.79 71.51,809.61 72.46,809.53 73.41,809.48 74.36,809.46 75.31,809.46 76.26,809.45 77.21,809.45 78.16,809.45 79.12,809.45 80.07,809.45 81.02,809.45 81.97,809.45 82.92,809.45 83.87,809.45 84.82,809.45 85.77,809.45 86.72,809.45 87.67,809.45 88.63,809.45 89.58,809.45 90.53,809.45 91.48,809.45 92.43,809.45 93.38,809.45 94.33,809.45 95.28,809.45 96.23,809.45 97.19,809.45 98.14,809.45 99.09,809.45 100.04,809.45 100.99,809.45 101.94,809.45 102.89,809.45 103.84,809.45 104.79,809.45 105.74,809.45 106.69,809.45 107.65,809.45 108.60,809.45 109.55,809.45 110.50,809.45 111.45,809.45 112.40,809.45 113.35,809.45 114.30,809.45 115.25,809.45 116.20,809.45 117.16,809.45 118.11,809.45 119.06,809.45 120.01,809.45 120.96,809.45 121.91,809.45 122.86,809.45 123.81,809.45 124.76,809.45 125.72,809.45 126.67,809.45 127.62,809.45 128.57,809.45 129.52,809.45 130.47,809.45 131.42,809.45 132.37,809.45 133.32,809.45 134.27,809.45 135.22,809.45 136.18,809.45 137.13,809.45 138.08,809.45 139.03,809.45 139.98,809.45 140.93,809.45 141.88,809.45 142.83,809.45 143.78,809.45 144.73,809.45 145.69,809.45 146.64,809.45 147.59,809.45 148.54,809.45 149.49,809.45 150.44,809.45 151.39,809.45 152.34,809.45 153.29,809.45 154.25,809.45 155.20,809.45 156.15,809.45 157.10,809.45 158.05,809.45 159.00,809.45" fill="none" stroke="#0000FF" stroke-width="1"/>
<polyline points="40.60,826.50 41.59,826.50 42.57,826.50 43.56,826.50 44.55,826.50 45.53,826.50 46.52,826.50 47.51,826.50 48.49,826.50 49.48,826.50 50.47,826.50 51.45,826.50 52.44,826.50 53.43,826.50 54.41,826.50 55.40,826.50 56.39,826.50 57.37,826.50 58.36,826.50 59.35,826.50 60.33,826.50 61.32,826.50 62.31,826.50 63.29,826.50 64.28,826.50 65.27,826.50 66.25,826.50 67.24,826.50 68.23,826.50 69.21,826.50 70.20,826.50 71.19,826.50 72.17,826.50 73.16,826.50 74.15,826.50 75.13,826.50 76.12,826.50 77.11,826.50 78.09,826.50 79.08,826.50 80.07,826.50 81.05,826.50 82.04,826.50 83.03,826.49 84.01,826.49 85.00,826.49 85.99,826.49 86.97,826.48 87.96,826.47 88.95,826.47 89.93,826.45 90.92,826.44 91.91,826.42 92.89,826.39 93.88,826.35 94.87,826.30 95.85,826.23 96.84,826.14 97.83,826.01 98.81,825.85 99.80,825.64 100.79,825.36 101.77,825.00 102.76,824.54 103.75,823.97 104.73,823.28 105.72,822.45 106.71,821.50 107.69,820.44 108.68,819.32 109.67,818.18 110.65,817.06 111.64,816.02 112.63,815.09 113.61,814.28 114.60,813.60 115.59,813.05 116.57,812.61 117.56,812.26 118.55,811.99 119.53,811.79 120.52,811.63 121.51,811.51 122.49,811.43 123.48,811.36 124.47,811.31 125.45,811.27 126.44,811.24 127.43,811.22 128.41,811.21 129.40,811.20 130.39,811.19 131.37,811.18 132.36,811.18 133.35,811.17 134.33,811.17 135.32,811.17 136.31,811.17 137.29,811.17 138.28,811.17 139.27,811.17 140.25,811.17 141.24,811.17 142.23,811.17 143.21,811.17 144.20,811.17 145.19,811.17 146.17,811.17 147.16,811.16 148.15,811.16 149.13,811.16 150.12,811.16 151.11,811.16 152.09,811.16 153.08,811.16 154.07,811.16 155.05,811.16 156.04,811.16 157.03,811.16 158.01,811.16 159.00,811.16" fill="none" stroke="#000" stroke-width="1"/>
<circle cx="63.90" cy="826.50" r="2.80" fill="#000"/>
<circle cx="79.60" cy="826.50" r="2.80" fill="#000"/>
<circle cx="95.20" cy="826.50" r="2.80" fill="#000"/>
<circle cx="111.10" cy="812.88" r="2.80" fill="#000"/>
<circle cx="127.00" cy="796.36" r="2.80" fill="#000"/>
<circle cx="127.00" cy="826.50" r="2.80" fill="#000"/>
<circle cx="142.60" cy="797.42" r="2.80" fill="#000"/>
<circle cx="142.60" cy="821.21" r="2.80" fill="#000"/>
<circle cx="159.00" cy="804.95" r="2.80" fill="#000"/>
<circle cx="159.00" cy="819.89" r="2.80" fill="#000"/>
<circle cx="63.90" cy="818.83" r="2.80" fill="#0000FF"/>
<circle cx="79.60" cy="799.13" r="2.80" fill="#0000FF"/>
<circle cx="79.60" cy="809.31" r="2.80" fill="#0000FF"/>
<circle cx="95.20" cy="796.36" r="2.80" fill="#0000FF"/>
<circle cx="95.20" cy="821.87" r="2.80" fill="#0000FF"/>
<circle cx="111.10" cy="814.21" r="2.80" fill="#0000FF"/>
<circle cx="111.10" cy="824.65" r="2.80" fill="#0000FF"/>
<circle cx="127.00" cy="815.53" r="2.80" fill="#0000FF"/>
<circle cx="127.00" cy="820.55" r="2.80" fill="#0000FF"/>
<circle cx="142.60" cy="791.20" r="2.80" fill="#0000FF"/>
<circle cx="142.60" cy="807.46" r="2.80" fill="#0000FF"/>
<circle cx="159.00" cy="802.31" r="2.80" fill="#0000FF"/>
<circle cx="159.00" cy="811.56" r="2.80" fill="#0000FF"/>
<line x1="40.6" y1="826.5" x2="173.5" y2="826.5" stroke="#000" stroke-width="1.8"/>
<line x1="40.6" y1="827.25" x2="40.6" y2="693.5999999999999" stroke="#000" stroke-width="1.8"/>
<line x1="34.60" y1="826.50" x2="40.60" y2="826.50" stroke="#000" stroke-width="1.3"/>
<text x="33.60" y="830.00" font-size="9.8" text-anchor="end" fill="#000">0</text>
<line x1="34.60" y1="760.40" x2="40.60" y2="760.40" stroke="#000" stroke-width="1.3"/>
<text x="33.60" y="763.90" font-size="9.8" text-anchor="end" fill="#000">50</text>
<line x1="34.60" y1="694.30" x2="40.60" y2="694.30" stroke="#000" stroke-width="1.3"/>
<text x="33.60" y="697.80" font-size="9.8" text-anchor="end" fill="#000">100</text>
<line x1="40.60" y1="826.50" x2="40.60" y2="831.50" stroke="#000" stroke-width="1.3"/>
<line x1="63.74" y1="826.50" x2="63.74" y2="829.50" stroke="#000" stroke-width="0.9"/>
<line x1="57.91" y1="826.50" x2="57.91" y2="829.50" stroke="#000" stroke-width="0.9"/>
<line x1="53.77" y1="826.50" x2="53.77" y2="829.50" stroke="#000" stroke-width="0.9"/>
<line x1="50.56" y1="826.50" x2="50.56" y2="829.50" stroke="#000" stroke-width="0.9"/>
<line x1="47.94" y1="826.50" x2="47.94" y2="829.50" stroke="#000" stroke-width="0.9"/>
<line x1="45.73" y1="826.50" x2="45.73" y2="829.50" stroke="#000" stroke-width="0.9"/>
<line x1="43.81" y1="826.50" x2="43.81" y2="829.50" stroke="#000" stroke-width="0.9"/>
<line x1="42.11" y1="826.50" x2="42.11" y2="829.50" stroke="#000" stroke-width="0.9"/>
<line x1="73.70" y1="826.50" x2="73.70" y2="831.50" stroke="#000" stroke-width="1.3"/>
<line x1="96.84" y1="826.50" x2="96.84" y2="829.50" stroke="#000" stroke-width="0.9"/>
<line x1="91.01" y1="826.50" x2="91.01" y2="829.50" stroke="#000" stroke-width="0.9"/>
<line x1="86.87" y1="826.50" x2="86.87" y2="829.50" stroke="#000" stroke-width="0.9"/>
<line x1="83.66" y1="826.50" x2="83.66" y2="829.50" stroke="#000" stroke-width="0.9"/>
<line x1="81.04" y1="826.50" x2="81.04" y2="829.50" stroke="#000" stroke-width="0.9"/>
<line x1="78.83" y1="826.50" x2="78.83" y2="829.50" stroke="#000" stroke-width="0.9"/>
<line x1="76.91" y1="826.50" x2="76.91" y2="829.50" stroke="#000" stroke-width="0.9"/>
<line x1="75.21" y1="826.50" x2="75.21" y2="829.50" stroke="#000" stroke-width="0.9"/>
<line x1="106.80" y1="826.50" x2="106.80" y2="831.50" stroke="#000" stroke-width="1.3"/>
<line x1="129.94" y1="826.50" x2="129.94" y2="829.50" stroke="#000" stroke-width="0.9"/>
<line x1="124.11" y1="826.50" x2="124.11" y2="829.50" stroke="#000" stroke-width="0.9"/>
<line x1="119.97" y1="826.50" x2="119.97" y2="829.50" stroke="#000" stroke-width="0.9"/>
<line x1="116.76" y1="826.50" x2="116.76" y2="829.50" stroke="#000" stroke-width="0.9"/>
<line x1="114.14" y1="826.50" x2="114.14" y2="829.50" stroke="#000" stroke-width="0.9"/>
<line x1="111.93" y1="826.50" x2="111.93" y2="829.50" stroke="#000" stroke-width="0.9"/>
<line x1="110.01" y1="826.50" x2="110.01" y2="829.50" stroke="#000" stroke-width="0.9"/>
<line x1="108.31" y1="826.50" x2="108.31" y2="829.50" stroke="#000" stroke-width="0.9"/>
<line x1="139.90" y1="826.50" x2="139.90" y2="831.50" stroke="#000" stroke-width="1.3"/>
<line x1="163.04" y1="826.50" x2="163.04" y2="829.50" stroke="#000" stroke-width="0.9"/>
<line x1="157.21" y1="826.50" x2="157.21" y2="829.50" stroke="#000" stroke-width="0.9"/>
<line x1="153.07" y1="826.50" x2="153.07" y2="829.50" stroke="#000" stroke-width="0.9"/>
<line x1="149.86" y1="826.50" x2="149.86" y2="829.50" stroke="#000" stroke-width="0.9"/>
<line x1="147.24" y1="826.50" x2="147.24" y2="829.50" stroke="#000" stroke-width="0.9"/>
<line x1="145.03" y1="826.50" x2="145.03" y2="829.50" stroke="#000" stroke-width="0.9"/>
<line x1="143.11" y1="826.50" x2="143.11" y2="829.50" stroke="#000" stroke-width="0.9"/>
<line x1="141.41" y1="826.50" x2="141.41" y2="829.50" stroke="#000" stroke-width="0.9"/>
<line x1="173.00" y1="826.50" x2="173.00" y2="831.50" stroke="#000" stroke-width="1.3"/>
<text x="40.60" y="843.00" font-size="10" text-anchor="middle" fill="#000">1000</text>
<text x="73.70" y="843.00" font-size="10" text-anchor="middle" fill="#000">100</text>
<text x="106.80" y="843.00" font-size="10" text-anchor="middle" fill="#000">10</text>
<text x="139.90" y="843.00" font-size="10" text-anchor="middle" fill="#000">1</text>
<text x="173.00" y="843.00" font-size="10" text-anchor="middle" fill="#000">0.1</text>
<text x="106.60" y="858.60" font-size="10.6" text-anchor="middle" fill="#000" textLength="70.0" lengthAdjust="spacingAndGlyphs">µg/mL CV3-25</text>
<text x="8.30" y="760.00" font-size="10.7" text-anchor="middle" fill="#000" transform="rotate(-90 8.30 760.00)">% Neutralization</text>
<rect x="90.3" y="711.9" width="84.4" height="34.7" fill="none" stroke="#222" stroke-width="1.1"/>
<circle cx="97.90" cy="722.10" r="2.90" fill="#0000FF"/>
<circle cx="97.90" cy="739.70" r="2.90" fill="#000"/>
<text x="113.00" y="725.60" font-size="10.6" text-anchor="start" fill="#000" textLength="58.0" lengthAdjust="spacingAndGlyphs">CV3-25 IgG</text>
<text x="113.00" y="742.80" font-size="10.6" text-anchor="start" fill="#000" textLength="59.0" lengthAdjust="spacingAndGlyphs">CV3-25 Fab</text>
<text x="278.50" y="662.80" font-size="25" text-anchor="start" fill="#000">l</text>
<text x="352.70" y="661.80" font-size="11.6" text-anchor="middle" fill="#000" textLength="70.5" lengthAdjust="spacingAndGlyphs">HCoV-OC43</text>
<text x="354.60" y="676.40" font-size="11.6" text-anchor="middle" fill="#000" textLength="71.8" lengthAdjust="spacingAndGlyphs">neutralization</text>
<line x1="290.0" y1="766.20" x2="420" y2="766.20" stroke="#000" stroke-width="1.3" stroke-dasharray="1.1 2.9"/>
<polyline points="286.40,707.06 287.19,707.06 287.98,707.07 288.77,707.07 289.56,707.08 290.35,707.09 291.14,707.09 291.94,707.10 292.73,707.11 293.52,707.12 294.31,707.13 295.10,707.15 295.89,707.16 296.68,707.17 297.47,707.19 298.26,707.21 299.05,707.23 299.84,707.25 300.63,707.27 301.43,707.29 302.22,707.32 303.01,707.35 303.80,707.38 304.59,707.42 305.38,707.45 306.17,707.50 306.96,707.54 307.75,707.59 308.54,707.64 309.33,707.70 310.12,707.76 310.92,707.83 311.71,707.91 312.50,707.99 313.29,708.07 314.08,708.17 314.87,708.28 315.66,708.39 316.45,708.51 317.24,708.65 318.03,708.80 318.82,708.95 319.61,709.13 320.41,709.32 321.20,709.52 321.99,709.74 322.78,709.98 323.57,710.24 324.36,710.53 325.15,710.83 325.94,711.17 326.73,711.53 327.52,711.92 328.31,712.34 329.10,712.79 329.90,713.29 330.69,713.82 331.48,714.39 332.27,715.01 333.06,715.67 333.85,716.38 334.64,717.15 335.43,717.97 336.22,718.84 337.01,719.78 337.80,720.78 338.59,721.85 339.39,722.99 340.18,724.19 340.97,725.47 341.76,726.82 342.55,728.24 343.34,729.74 344.13,731.31 344.92,732.95 345.71,734.67 346.50,736.46 347.29,738.32 348.08,740.24 348.88,742.22 349.67,744.26 350.46,746.34 351.25,748.47 352.04,750.64 352.83,752.84 353.62,755.05 354.41,757.29 355.20,759.52 355.99,761.76 356.78,763.98 357.57,766.18 358.37,768.36 359.16,770.50 359.95,772.60 360.74,774.65 361.53,776.65 362.32,778.59 363.11,780.46 363.90,782.27 364.69,784.01 365.48,785.68 366.27,787.27 367.06,788.79 367.86,790.23 368.65,791.60 369.44,792.90 370.23,794.13 371.02,795.28 371.81,796.37 372.60,797.39 373.39,798.34 374.18,799.24 374.97,800.07 375.76,800.85 376.55,801.58 377.35,802.26 378.14,802.89 378.93,803.47 379.72,804.02 380.51,804.52 381.30,804.98 382.09,805.41 382.88,805.81 383.67,806.18 384.46,806.52 385.25,806.84 386.04,807.13 386.84,807.39 387.63,807.64 388.42,807.87 389.21,808.08 390.00,808.27 390.79,808.45 391.58,808.61 392.37,808.76 393.16,808.90 393.95,809.03 394.74,809.14 395.53,809.25 396.33,809.35 397.12,809.44 397.91,809.52 398.70,809.60 399.49,809.67 400.28,809.73 401.07,809.79 401.86,809.85 402.65,809.90 403.44,809.94 404.23,809.98 405.02,810.02 405.82,810.06 406.61,810.09 407.40,810.12 408.19,810.15 408.98,810.17 409.77,810.20 410.56,810.22 411.35,810.24 412.14,810.25 412.93,810.27" fill="none" stroke="#000" stroke-width="1"/>
<circle cx="286.40" cy="701.62" r="2.80" fill="#000"/>
<circle cx="286.40" cy="707.00" r="2.80" fill="#000"/>
<circle cx="307.49" cy="711.78" r="2.80" fill="#000"/>
<circle cx="307.49" cy="714.17" r="2.80" fill="#000"/>
<circle cx="328.58" cy="704.61" r="2.80" fill="#000"/>
<circle cx="328.58" cy="708.19" r="2.80" fill="#000"/>
<circle cx="349.67" cy="714.17" r="2.80" fill="#000"/>
<circle cx="349.67" cy="774.57" r="2.80" fill="#000"/>
<circle cx="370.76" cy="783.78" r="2.80" fill="#000"/>
<circle cx="370.76" cy="808.78" r="2.80" fill="#000"/>
<circle cx="391.84" cy="808.06" r="2.80" fill="#000"/>
<circle cx="391.84" cy="811.17" r="2.80" fill="#000"/>
<circle cx="412.93" cy="808.78" r="2.80" fill="#000"/>
<circle cx="412.93" cy="812.84" r="2.80" fill="#000"/>
<line x1="286.4" y1="826.0" x2="419.5" y2="826.0" stroke="#000" stroke-width="1.8"/>
<line x1="286.4" y1="826.75" x2="286.4" y2="693.5" stroke="#000" stroke-width="1.8"/>
<line x1="280.40" y1="826.00" x2="286.40" y2="826.00" stroke="#000" stroke-width="1.3"/>
<text x="279.40" y="829.50" font-size="9.8" text-anchor="end" fill="#000">0</text>
<line x1="280.40" y1="766.20" x2="286.40" y2="766.20" stroke="#000" stroke-width="1.3"/>
<text x="279.40" y="769.70" font-size="9.8" text-anchor="end" fill="#000">50</text>
<line x1="280.40" y1="706.40" x2="286.40" y2="706.40" stroke="#000" stroke-width="1.3"/>
<text x="279.40" y="709.90" font-size="9.8" text-anchor="end" fill="#000">100</text>
<line x1="286.40" y1="826.00" x2="286.40" y2="831.00" stroke="#000" stroke-width="1.3"/>
<line x1="299.71" y1="826.00" x2="299.71" y2="829.00" stroke="#000" stroke-width="0.9"/>
<line x1="307.49" y1="826.00" x2="307.49" y2="829.00" stroke="#000" stroke-width="0.9"/>
<line x1="313.01" y1="826.00" x2="313.01" y2="829.00" stroke="#000" stroke-width="0.9"/>
<line x1="317.29" y1="826.00" x2="317.29" y2="829.00" stroke="#000" stroke-width="0.9"/>
<line x1="320.79" y1="826.00" x2="320.79" y2="829.00" stroke="#000" stroke-width="0.9"/>
<line x1="323.75" y1="826.00" x2="323.75" y2="829.00" stroke="#000" stroke-width="0.9"/>
<line x1="326.32" y1="826.00" x2="326.32" y2="829.00" stroke="#000" stroke-width="0.9"/>
<line x1="328.58" y1="826.00" x2="328.58" y2="829.00" stroke="#000" stroke-width="0.9"/>
<line x1="330.60" y1="826.00" x2="330.60" y2="831.00" stroke="#000" stroke-width="1.3"/>
<line x1="343.91" y1="826.00" x2="343.91" y2="829.00" stroke="#000" stroke-width="0.9"/>
<line x1="351.69" y1="826.00" x2="351.69" y2="829.00" stroke="#000" stroke-width="0.9"/>
<line x1="357.21" y1="826.00" x2="357.21" y2="829.00" stroke="#000" stroke-width="0.9"/>
<line x1="361.49" y1="826.00" x2="361.49" y2="829.00" stroke="#000" stroke-width="0.9"/>
<line x1="364.99" y1="826.00" x2="364.99" y2="829.00" stroke="#000" stroke-width="0.9"/>
<line x1="367.95" y1="826.00" x2="367.95" y2="829.00" stroke="#000" stroke-width="0.9"/>
<line x1="370.52" y1="826.00" x2="370.52" y2="829.00" stroke="#000" stroke-width="0.9"/>
<line x1="372.78" y1="826.00" x2="372.78" y2="829.00" stroke="#000" stroke-width="0.9"/>
<line x1="374.80" y1="826.00" x2="374.80" y2="831.00" stroke="#000" stroke-width="1.3"/>
<line x1="388.11" y1="826.00" x2="388.11" y2="829.00" stroke="#000" stroke-width="0.9"/>
<line x1="395.89" y1="826.00" x2="395.89" y2="829.00" stroke="#000" stroke-width="0.9"/>
<line x1="401.41" y1="826.00" x2="401.41" y2="829.00" stroke="#000" stroke-width="0.9"/>
<line x1="405.69" y1="826.00" x2="405.69" y2="829.00" stroke="#000" stroke-width="0.9"/>
<line x1="409.19" y1="826.00" x2="409.19" y2="829.00" stroke="#000" stroke-width="0.9"/>
<line x1="412.15" y1="826.00" x2="412.15" y2="829.00" stroke="#000" stroke-width="0.9"/>
<line x1="414.72" y1="826.00" x2="414.72" y2="829.00" stroke="#000" stroke-width="0.9"/>
<line x1="416.98" y1="826.00" x2="416.98" y2="829.00" stroke="#000" stroke-width="0.9"/>
<line x1="419.00" y1="826.00" x2="419.00" y2="831.00" stroke="#000" stroke-width="1.3"/>
<text x="286.40" y="843.00" font-size="10" text-anchor="middle" fill="#000">10</text>
<text x="330.60" y="843.00" font-size="10" text-anchor="middle" fill="#000">100</text>
<text x="374.80" y="843.00" font-size="10" text-anchor="middle" fill="#000">1000</text>
<text x="419.00" y="843.00" font-size="10" text-anchor="middle" fill="#000">10000</text>
<text x="352.60" y="857.70" font-size="10.8" text-anchor="middle" fill="#000">Reciprocal serum dilution</text>
<text x="257.60" y="760.30" font-size="10.7" text-anchor="middle" fill="#000" transform="rotate(-90 257.60 760.30)">% Neutralization</text>
<text x="509.00" y="662.40" font-size="25" text-anchor="start" fill="#000">m</text>
<text x="592.90" y="667.80" font-size="11.6" text-anchor="middle" fill="#000" textLength="63.5" lengthAdjust="spacingAndGlyphs">MERS-CoV</text>
<text x="592.20" y="680.50" font-size="11.6" text-anchor="middle" fill="#000" textLength="139.5" lengthAdjust="spacingAndGlyphs">pseudovirus neutralization</text>
<line x1="531.1" y1="761.90" x2="657" y2="761.90" stroke="#000" stroke-width="1.3" stroke-dasharray="1.1 2.82"/>
<polyline points="535.60,698.04 536.30,698.06 537.00,698.09 537.69,698.13 538.39,698.16 539.09,698.20 539.78,698.24 540.48,698.28 541.18,698.32 541.88,698.37 542.58,698.42 543.27,698.47 543.97,698.53 544.67,698.59 545.37,698.65 546.06,698.72 546.76,698.79 547.46,698.87 548.15,698.95 548.85,699.04 549.55,699.13 550.25,699.23 550.95,699.34 551.64,699.45 552.34,699.57 553.04,699.69 553.74,699.83 554.43,699.97 555.13,700.12 555.83,700.28 556.52,700.45 557.22,700.64 557.92,700.83 558.62,701.03 559.32,701.25 560.01,701.48 560.71,701.73 561.41,701.99 562.11,702.26 562.80,702.56 563.50,702.87 564.20,703.19 564.89,703.54 565.59,703.91 566.29,704.30 566.99,704.71 567.69,705.15 568.38,705.61 569.08,706.10 569.78,706.61 570.48,707.15 571.17,707.72 571.87,708.33 572.57,708.96 573.26,709.63 573.96,710.33 574.66,711.07 575.36,711.85 576.06,712.66 576.75,713.52 577.45,714.41 578.15,715.35 578.85,716.33 579.54,717.35 580.24,718.42 580.94,719.53 581.63,720.69 582.33,721.89 583.03,723.14 583.73,724.43 584.43,725.78 585.12,727.16 585.82,728.59 586.52,730.07 587.22,731.59 587.91,733.15 588.61,734.76 589.31,736.40 590.00,738.08 590.70,739.79 591.40,741.54 592.10,743.31 592.80,745.11 593.49,746.94 594.19,748.79 594.89,750.65 595.59,752.53 596.28,754.41 596.98,756.30 597.68,758.20 598.38,760.09 599.07,761.98 599.77,763.85 600.47,765.72 601.17,767.57 601.86,769.40 602.56,771.20 603.26,772.98 603.96,774.73 604.65,776.45 605.35,778.14 606.05,779.79 606.75,781.39 607.44,782.96 608.14,784.49 608.84,785.97 609.54,787.41 610.23,788.81 610.93,790.16 611.63,791.46 612.33,792.72 613.02,793.93 613.72,795.09 614.42,796.21 615.12,797.28 615.81,798.31 616.51,799.30 617.21,800.24 617.91,801.14 618.60,802.00 619.30,802.82 620.00,803.61 620.70,804.35 621.39,805.06 622.09,805.73 622.79,806.37 623.49,806.98 624.18,807.56 624.88,808.10 625.58,808.62 626.28,809.11 626.97,809.58 627.67,810.02 628.37,810.43 629.07,810.83 629.76,811.20 630.46,811.55 631.16,811.88 631.86,812.19 632.55,812.49 633.25,812.77 633.95,813.03 634.64,813.28 635.34,813.51 636.04,813.73 636.74,813.94 637.44,814.13 638.13,814.32 638.83,814.49 639.53,814.65 640.23,814.80 640.92,814.95 641.62,815.08 642.32,815.21 643.02,815.33 643.71,815.45 644.41,815.55 645.11,815.65 645.81,815.74 646.50,815.83 647.20,815.92" fill="none" stroke="#000" stroke-width="1"/>
<polyline points="536.5,816.4 614.8,816.4 614.8,826.2" fill="none" stroke="#0000FF" stroke-width="1"/>
<circle cx="535.60" cy="697.60" r="2.80" fill="#000"/>
<circle cx="548.10" cy="698.89" r="2.80" fill="#000"/>
<circle cx="560.80" cy="701.46" r="2.80" fill="#000"/>
<circle cx="560.80" cy="703.39" r="2.80" fill="#000"/>
<circle cx="560.80" cy="705.32" r="2.80" fill="#000"/>
<circle cx="572.50" cy="704.03" r="2.80" fill="#000"/>
<circle cx="572.50" cy="709.82" r="2.80" fill="#000"/>
<circle cx="572.50" cy="714.96" r="2.80" fill="#000"/>
<circle cx="572.50" cy="717.53" r="2.80" fill="#000"/>
<circle cx="584.60" cy="725.25" r="2.80" fill="#000"/>
<circle cx="584.60" cy="726.54" r="2.80" fill="#000"/>
<circle cx="584.60" cy="740.04" r="2.80" fill="#000"/>
<circle cx="596.70" cy="747.75" r="2.80" fill="#000"/>
<circle cx="596.70" cy="751.61" r="2.80" fill="#000"/>
<circle cx="596.70" cy="762.80" r="2.80" fill="#000"/>
<circle cx="596.70" cy="767.04" r="2.80" fill="#000"/>
<circle cx="609.10" cy="779.26" r="2.80" fill="#000"/>
<circle cx="609.10" cy="785.05" r="2.80" fill="#000"/>
<circle cx="609.10" cy="786.98" r="2.80" fill="#000"/>
<circle cx="621.90" cy="790.71" r="2.80" fill="#000"/>
<circle cx="621.90" cy="795.98" r="2.80" fill="#000"/>
<circle cx="634.70" cy="793.41" r="2.80" fill="#000"/>
<circle cx="634.70" cy="795.98" r="2.80" fill="#000"/>
<circle cx="647.10" cy="810.77" r="2.80" fill="#000"/>
<circle cx="647.10" cy="825.56" r="2.80" fill="#000"/>
<circle cx="535.60" cy="803.95" r="2.80" fill="#0000FF"/>
<circle cx="548.10" cy="796.62" r="2.80" fill="#0000FF"/>
<circle cx="560.80" cy="804.98" r="2.80" fill="#0000FF"/>
<circle cx="560.80" cy="814.63" r="2.80" fill="#0000FF"/>
<circle cx="572.50" cy="808.20" r="2.80" fill="#0000FF"/>
<circle cx="572.50" cy="823.63" r="2.80" fill="#0000FF"/>
<circle cx="584.60" cy="804.34" r="2.80" fill="#0000FF"/>
<circle cx="584.60" cy="825.94" r="2.80" fill="#0000FF"/>
<circle cx="596.70" cy="814.63" r="2.80" fill="#0000FF"/>
<circle cx="596.70" cy="824.91" r="2.80" fill="#0000FF"/>
<circle cx="609.10" cy="800.48" r="2.80" fill="#0000FF"/>
<circle cx="609.10" cy="823.89" r="2.80" fill="#0000FF"/>
<circle cx="621.90" cy="806.27" r="2.80" fill="#0000FF"/>
<circle cx="634.70" cy="810.12" r="2.80" fill="#0000FF"/>
<line x1="528.4" y1="826.2" x2="655.8" y2="826.2" stroke="#000" stroke-width="1.8"/>
<line x1="528.4" y1="826.95" x2="528.4" y2="696.9" stroke="#000" stroke-width="1.8"/>
<line x1="522.40" y1="826.20" x2="528.40" y2="826.20" stroke="#000" stroke-width="1.3"/>
<text x="521.40" y="829.70" font-size="9.8" text-anchor="end" fill="#000">0</text>
<line x1="522.40" y1="761.90" x2="528.40" y2="761.90" stroke="#000" stroke-width="1.3"/>
<text x="521.40" y="765.40" font-size="9.8" text-anchor="end" fill="#000">50</text>
<line x1="522.40" y1="697.60" x2="528.40" y2="697.60" stroke="#000" stroke-width="1.3"/>
<text x="521.40" y="701.10" font-size="9.8" text-anchor="end" fill="#000">100</text>
<line x1="528.40" y1="826.20" x2="528.40" y2="831.20" stroke="#000" stroke-width="1.3"/>
<line x1="546.12" y1="826.20" x2="546.12" y2="829.20" stroke="#000" stroke-width="0.9"/>
<line x1="541.65" y1="826.20" x2="541.65" y2="829.20" stroke="#000" stroke-width="0.9"/>
<line x1="538.49" y1="826.20" x2="538.49" y2="829.20" stroke="#000" stroke-width="0.9"/>
<line x1="536.03" y1="826.20" x2="536.03" y2="829.20" stroke="#000" stroke-width="0.9"/>
<line x1="534.02" y1="826.20" x2="534.02" y2="829.20" stroke="#000" stroke-width="0.9"/>
<line x1="532.33" y1="826.20" x2="532.33" y2="829.20" stroke="#000" stroke-width="0.9"/>
<line x1="530.86" y1="826.20" x2="530.86" y2="829.20" stroke="#000" stroke-width="0.9"/>
<line x1="529.56" y1="826.20" x2="529.56" y2="829.20" stroke="#000" stroke-width="0.9"/>
<line x1="553.75" y1="826.20" x2="553.75" y2="831.20" stroke="#000" stroke-width="1.3"/>
<line x1="571.47" y1="826.20" x2="571.47" y2="829.20" stroke="#000" stroke-width="0.9"/>
<line x1="567.00" y1="826.20" x2="567.00" y2="829.20" stroke="#000" stroke-width="0.9"/>
<line x1="563.84" y1="826.20" x2="563.84" y2="829.20" stroke="#000" stroke-width="0.9"/>
<line x1="561.38" y1="826.20" x2="561.38" y2="829.20" stroke="#000" stroke-width="0.9"/>
<line x1="559.37" y1="826.20" x2="559.37" y2="829.20" stroke="#000" stroke-width="0.9"/>
<line x1="557.68" y1="826.20" x2="557.68" y2="829.20" stroke="#000" stroke-width="0.9"/>
<line x1="556.21" y1="826.20" x2="556.21" y2="829.20" stroke="#000" stroke-width="0.9"/>
<line x1="554.91" y1="826.20" x2="554.91" y2="829.20" stroke="#000" stroke-width="0.9"/>
<line x1="579.10" y1="826.20" x2="579.10" y2="831.20" stroke="#000" stroke-width="1.3"/>
<line x1="596.82" y1="826.20" x2="596.82" y2="829.20" stroke="#000" stroke-width="0.9"/>
<line x1="592.35" y1="826.20" x2="592.35" y2="829.20" stroke="#000" stroke-width="0.9"/>
<line x1="589.19" y1="826.20" x2="589.19" y2="829.20" stroke="#000" stroke-width="0.9"/>
<line x1="586.73" y1="826.20" x2="586.73" y2="829.20" stroke="#000" stroke-width="0.9"/>
<line x1="584.72" y1="826.20" x2="584.72" y2="829.20" stroke="#000" stroke-width="0.9"/>
<line x1="583.03" y1="826.20" x2="583.03" y2="829.20" stroke="#000" stroke-width="0.9"/>
<line x1="581.56" y1="826.20" x2="581.56" y2="829.20" stroke="#000" stroke-width="0.9"/>
<line x1="580.26" y1="826.20" x2="580.26" y2="829.20" stroke="#000" stroke-width="0.9"/>
<line x1="604.45" y1="826.20" x2="604.45" y2="831.20" stroke="#000" stroke-width="1.3"/>
<line x1="622.17" y1="826.20" x2="622.17" y2="829.20" stroke="#000" stroke-width="0.9"/>
<line x1="617.70" y1="826.20" x2="617.70" y2="829.20" stroke="#000" stroke-width="0.9"/>
<line x1="614.54" y1="826.20" x2="614.54" y2="829.20" stroke="#000" stroke-width="0.9"/>
<line x1="612.08" y1="826.20" x2="612.08" y2="829.20" stroke="#000" stroke-width="0.9"/>
<line x1="610.07" y1="826.20" x2="610.07" y2="829.20" stroke="#000" stroke-width="0.9"/>
<line x1="608.38" y1="826.20" x2="608.38" y2="829.20" stroke="#000" stroke-width="0.9"/>
<line x1="606.91" y1="826.20" x2="606.91" y2="829.20" stroke="#000" stroke-width="0.9"/>
<line x1="605.61" y1="826.20" x2="605.61" y2="829.20" stroke="#000" stroke-width="0.9"/>
<line x1="629.80" y1="826.20" x2="629.80" y2="831.20" stroke="#000" stroke-width="1.3"/>
<line x1="647.52" y1="826.20" x2="647.52" y2="829.20" stroke="#000" stroke-width="0.9"/>
<line x1="643.05" y1="826.20" x2="643.05" y2="829.20" stroke="#000" stroke-width="0.9"/>
<line x1="639.89" y1="826.20" x2="639.89" y2="829.20" stroke="#000" stroke-width="0.9"/>
<line x1="637.43" y1="826.20" x2="637.43" y2="829.20" stroke="#000" stroke-width="0.9"/>
<line x1="635.42" y1="826.20" x2="635.42" y2="829.20" stroke="#000" stroke-width="0.9"/>
<line x1="633.73" y1="826.20" x2="633.73" y2="829.20" stroke="#000" stroke-width="0.9"/>
<line x1="632.26" y1="826.20" x2="632.26" y2="829.20" stroke="#000" stroke-width="0.9"/>
<line x1="630.96" y1="826.20" x2="630.96" y2="829.20" stroke="#000" stroke-width="0.9"/>
<line x1="655.15" y1="826.20" x2="655.15" y2="830.40" stroke="#000" stroke-width="1.3"/>
<text x="528.40" y="843.00" font-size="9.6" text-anchor="middle" fill="#000">100</text>
<text x="553.75" y="843.00" font-size="9.6" text-anchor="middle" fill="#000">10</text>
<text x="579.10" y="843.00" font-size="9.6" text-anchor="middle" fill="#000">1</text>
<text x="604.45" y="843.00" font-size="9.6" text-anchor="middle" fill="#000">0.1</text>
<text x="629.80" y="843.00" font-size="9.6" text-anchor="middle" fill="#000">0.01</text>
<text x="655.15" y="843.00" font-size="9.6" text-anchor="middle" fill="#000">0.001</text>
<text x="592.20" y="857.20" font-size="10.5" text-anchor="middle" fill="#000">µg/mL antibody</text>
<text x="497.20" y="762.30" font-size="10.7" text-anchor="middle" fill="#000" transform="rotate(-90 497.20 762.30)">% Neutralization</text>
<circle cx="634.70" cy="716.40" r="2.90" fill="#000"/>
<circle cx="634.70" cy="730.00" r="2.90" fill="#0000FF"/>
<text x="649.00" y="719.80" font-size="10.4" text-anchor="start" fill="#000">B6</text>
<text x="649.00" y="733.30" font-size="10.4" text-anchor="start" fill="#000">CV3-25</text>
</svg></body></html>
